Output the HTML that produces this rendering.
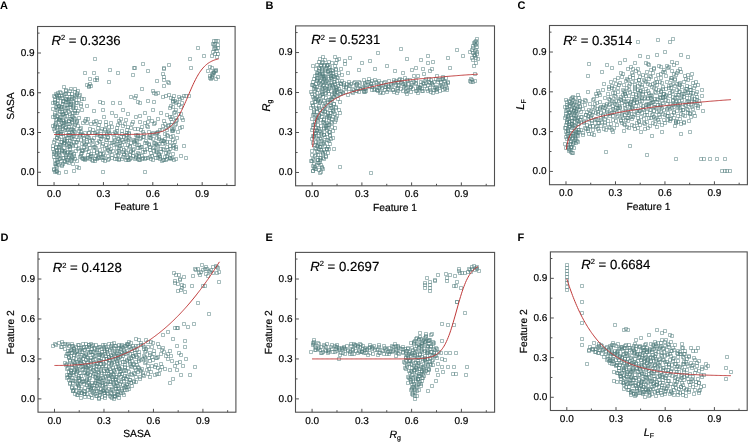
<!DOCTYPE html><html><head><meta charset="utf-8"><style>html,body{margin:0;padding:0;background:#fff;overflow:hidden;-webkit-font-smoothing:antialiased;text-rendering:geometricPrecision}svg{display:block;will-change:transform}</style></head><body><svg xmlns="http://www.w3.org/2000/svg" width="748" height="442" viewBox="0 0 748 442"><style>text{font-family:"Liberation Sans", sans-serif;fill:#000;stroke:#000;stroke-width:0.18px} .t{font-size:10px} .lab{font-size:10.3px} .r2{font-size:13.2px} .pl{font-size:11px;font-weight:bold;fill:#000;stroke:none}</style><rect width="748" height="442" fill="#fff"/><path d="M126.5 138.5h3v3h-3zM57.5 149.5h3v3h-3zM74.5 95.5h3v3h-3zM87.5 131.5h3v3h-3zM148.5 148.5h3v3h-3zM55.5 126.5h3v3h-3zM64.5 97.5h3v3h-3zM81.5 133.5h3v3h-3zM68.5 103.5h3v3h-3zM94.5 146.5h3v3h-3zM146.5 125.5h3v3h-3zM91.5 139.5h3v3h-3zM65.5 143.5h3v3h-3zM69.5 159.5h3v3h-3zM140.5 145.5h3v3h-3zM97.5 156.5h3v3h-3zM62.5 123.5h3v3h-3zM149.5 136.5h3v3h-3zM75.5 101.5h3v3h-3zM100.5 135.5h3v3h-3zM117.5 157.5h3v3h-3zM52.5 150.5h3v3h-3zM165.5 128.5h3v3h-3zM61.5 132.5h3v3h-3zM54.5 105.5h3v3h-3zM106.5 148.5h3v3h-3zM72.5 116.5h3v3h-3zM136.5 134.5h3v3h-3zM67.5 144.5h3v3h-3zM59.5 91.5h3v3h-3zM159.5 147.5h3v3h-3zM55.5 158.5h3v3h-3zM107.5 125.5h3v3h-3zM168.5 140.5h3v3h-3zM64.5 118.5h3v3h-3zM120.5 143.5h3v3h-3zM172.5 111.5h3v3h-3zM68.5 122.5h3v3h-3zM146.5 156.5h3v3h-3zM53.5 138.5h3v3h-3zM62.5 99.5h3v3h-3zM114.5 142.5h3v3h-3zM153.5 153.5h3v3h-3zM118.5 121.5h3v3h-3zM92.5 120.5h3v3h-3zM66.5 156.5h3v3h-3zM157.5 137.5h3v3h-3zM53.5 115.5h3v3h-3zM131.5 151.5h3v3h-3zM79.5 130.5h3v3h-3zM124.5 133.5h3v3h-3zM81.5 157.5h3v3h-3zM51.5 107.5h3v3h-3zM111.5 132.5h3v3h-3zM74.5 149.5h3v3h-3zM82.5 141.5h3v3h-3zM69.5 102.5h3v3h-3zM61.5 113.5h3v3h-3zM106.5 158.5h3v3h-3zM132.5 140.5h3v3h-3zM63.5 151.5h3v3h-3zM80.5 97.5h3v3h-3zM171.5 144.5h3v3h-3zM67.5 155.5h3v3h-3zM93.5 122.5h3v3h-3zM57.5 171.5h3v3h-3zM143.5 150.5h3v3h-3zM169.5 117.5h3v3h-3zM65.5 128.5h3v3h-3zM122.5 153.5h3v3h-3zM70.5 137.5h3v3h-3zM182.5 94.5h3v3h-3zM89.5 152.5h3v3h-3zM141.5 130.5h3v3h-3zM98.5 134.5h3v3h-3zM102.5 115.5h3v3h-3zM137.5 158.5h3v3h-3zM59.5 140.5h3v3h-3zM73.5 111.5h3v3h-3zM151.5 146.5h3v3h-3zM86.5 156.5h3v3h-3zM51.5 124.5h3v3h-3zM60.5 96.5h3v3h-3zM157.5 142.5h3v3h-3zM54.5 153.5h3v3h-3zM71.5 106.5h3v3h-3zM84.5 142.5h3v3h-3zM170.5 120.5h3v3h-3zM67.5 131.5h3v3h-3zM58.5 145.5h3v3h-3zM144.5 156.5h3v3h-3zM161.5 124.5h3v3h-3zM57.5 137.5h3v3h-3zM117.5 151.5h3v3h-3zM83.5 119.5h3v3h-3zM174.5 101.5h3v3h-3zM96.5 155.5h3v3h-3zM148.5 136.5h3v3h-3zM55.5 93.5h3v3h-3zM167.5 150.5h3v3h-3zM115.5 129.5h3v3h-3zM154.5 132.5h3v3h-3zM180.5 116.5h3v3h-3zM64.5 134.5h3v3h-3zM103.5 147.5h3v3h-3zM164.5 158.5h3v3h-3zM129.5 126.5h3v3h-3zM112.5 140.5h3v3h-3zM71.5 144.5h3v3h-3zM162.5 139.5h3v3h-3zM58.5 118.5h3v3h-3zM126.5 143.5h3v3h-3zM74.5 121.5h3v3h-3zM134.5 138.5h3v3h-3zM138.5 120.5h3v3h-3zM95.5 130.5h3v3h-3zM61.5 102.5h3v3h-3zM158.5 155.5h3v3h-3zM54.5 169.5h3v3h-3zM106.5 136.5h3v3h-3zM80.5 151.5h3v3h-3zM171.5 129.5h3v3h-3zM67.5 133.5h3v3h-3zM55.5 114.5h3v3h-3zM168.5 106.5h3v3h-3zM120.5 132.5h3v3h-3zM68.5 89.5h3v3h-3zM88.5 127.5h3v3h-3zM70.5 120.5h3v3h-3zM148.5 145.5h3v3h-3zM83.5 156.5h3v3h-3zM127.5 158.5h3v3h-3zM57.5 94.5h3v3h-3zM75.5 140.5h3v3h-3zM178.5 97.5h3v3h-3zM74.5 101.5h3v3h-3zM100.5 144.5h3v3h-3zM152.5 122.5h3v3h-3zM87.5 136.5h3v3h-3zM62.5 150.5h3v3h-3zM55.5 132.5h3v3h-3zM72.5 154.5h3v3h-3zM137.5 152.5h3v3h-3zM59.5 130.5h3v3h-3zM56.5 91.5h3v3h-3zM168.5 147.5h3v3h-3zM134.5 115.5h3v3h-3zM65.5 158.5h3v3h-3zM95.5 133.5h3v3h-3zM54.5 146.5h3v3h-3zM140.5 157.5h3v3h-3zM166.5 124.5h3v3h-3zM63.5 139.5h3v3h-3zM101.5 142.5h3v3h-3zM67.5 110.5h3v3h-3zM179.5 105.5h3v3h-3zM91.5 159.5h3v3h-3zM143.5 141.5h3v3h-3zM65.5 98.5h3v3h-3zM156.5 144.5h3v3h-3zM52.5 155.5h3v3h-3zM104.5 123.5h3v3h-3zM124.5 150.5h3v3h-3zM175.5 118.5h3v3h-3zM72.5 129.5h3v3h-3zM150.5 154.5h3v3h-3zM59.5 106.5h3v3h-3zM111.5 149.5h3v3h-3zM125.5 128.5h3v3h-3zM56.5 163.5h3v3h-3zM107.5 131.5h3v3h-3zM81.5 149.5h3v3h-3zM86.5 117.5h3v3h-3zM172.5 127.5h3v3h-3zM69.5 142.5h3v3h-3zM60.5 163.5h3v3h-3zM157.5 135.5h3v3h-3zM53.5 113.5h3v3h-3zM131.5 148.5h3v3h-3zM79.5 126.5h3v3h-3zM118.5 141.5h3v3h-3zM66.5 98.5h3v3h-3zM57.5 104.5h3v3h-3zM169.5 157.5h3v3h-3zM118.5 139.5h3v3h-3zM53.5 129.5h3v3h-3zM70.5 143.5h3v3h-3zM131.5 154.5h3v3h-3zM79.5 138.5h3v3h-3zM98.5 152.5h3v3h-3zM64.5 120.5h3v3h-3zM102.5 156.5h3v3h-3zM128.5 137.5h3v3h-3zM77.5 94.5h3v3h-3zM99.5 129.5h3v3h-3zM52.5 168.5h3v3h-3zM138.5 146.5h3v3h-3zM95.5 157.5h3v3h-3zM60.5 125.5h3v3h-3zM71.5 132.5h3v3h-3zM84.5 148.5h3v3h-3zM136.5 127.5h3v3h-3zM57.5 145.5h3v3h-3zM169.5 123.5h3v3h-3zM65.5 136.5h3v3h-3zM83.5 158.5h3v3h-3zM173.5 140.5h3v3h-3zM70.5 118.5h3v3h-3zM147.5 143.5h3v3h-3zM89.5 154.5h3v3h-3zM54.5 122.5h3v3h-3zM141.5 135.5h3v3h-3zM63.5 92.5h3v3h-3zM154.5 149.5h3v3h-3zM119.5 117.5h3v3h-3zM67.5 99.5h3v3h-3zM90.5 138.5h3v3h-3zM64.5 153.5h3v3h-3zM155.5 131.5h3v3h-3zM60.5 105.5h3v3h-3zM77.5 116.5h3v3h-3zM174.5 108.5h3v3h-3zM148.5 133.5h3v3h-3zM161.5 147.5h3v3h-3zM58.5 157.5h3v3h-3zM110.5 125.5h3v3h-3zM161.5 139.5h3v3h-3zM57.5 118.5h3v3h-3zM75.5 165.5h3v3h-3zM135.5 143.5h3v3h-3zM70.5 95.5h3v3h-3zM62.5 141.5h3v3h-3zM55.5 102.5h3v3h-3zM107.5 145.5h3v3h-3zM168.5 156.5h3v3h-3zM116.5 137.5h3v3h-3zM68.5 151.5h3v3h-3zM94.5 119.5h3v3h-3zM56.5 155.5h3v3h-3zM169.5 135.5h3v3h-3zM65.5 114.5h3v3h-3zM121.5 150.5h3v3h-3zM69.5 128.5h3v3h-3zM63.5 109.5h3v3h-3zM102.5 134.5h3v3h-3zM58.5 123.5h3v3h-3zM76.5 147.5h3v3h-3zM126.5 158.5h3v3h-3zM178.5 126.5h3v3h-3zM74.5 140.5h3v3h-3zM87.5 143.5h3v3h-3zM53.5 111.5h3v3h-3zM113.5 157.5h3v3h-3zM124.5 139.5h3v3h-3zM55.5 149.5h3v3h-3zM72.5 96.5h3v3h-3zM85.5 121.5h3v3h-3zM171.5 138.5h3v3h-3zM68.5 117.5h3v3h-3zM56.5 131.5h3v3h-3zM134.5 156.5h3v3h-3zM82.5 137.5h3v3h-3zM172.5 94.5h3v3h-3zM69.5 108.5h3v3h-3zM95.5 151.5h3v3h-3zM147.5 130.5h3v3h-3zM62.5 146.5h3v3h-3zM114.5 114.5h3v3h-3zM149.5 157.5h3v3h-3zM67.5 161.5h3v3h-3zM75.5 111.5h3v3h-3zM143.5 148.5h3v3h-3zM66.5 127.5h3v3h-3zM152.5 141.5h3v3h-3zM53.5 98.5h3v3h-3zM165.5 145.5h3v3h-3zM61.5 156.5h3v3h-3zM79.5 104.5h3v3h-3zM98.5 140.5h3v3h-3zM51.5 144.5h3v3h-3zM137.5 154.5h3v3h-3zM163.5 122.5h3v3h-3zM59.5 135.5h3v3h-3zM56.5 107.5h3v3h-3zM108.5 150.5h3v3h-3zM73.5 117.5h3v3h-3zM86.5 153.5h3v3h-3zM138.5 137.5h3v3h-3zM60.5 94.5h3v3h-3zM157.5 152.5h3v3h-3zM54.5 162.5h3v3h-3zM106.5 130.5h3v3h-3zM166.5 134.5h3v3h-3zM62.5 112.5h3v3h-3zM119.5 147.5h3v3h-3zM170.5 115.5h3v3h-3zM101.5 158.5h3v3h-3zM67.5 125.5h3v3h-3zM56.5 133.5h3v3h-3zM65.5 103.5h3v3h-3zM117.5 146.5h3v3h-3zM156.5 156.5h3v3h-3zM121.5 124.5h3v3h-3zM104.5 138.5h3v3h-3zM63.5 160.5h3v3h-3zM154.5 142.5h3v3h-3zM128.5 145.5h3v3h-3zM110.5 156.5h3v3h-3zM76.5 124.5h3v3h-3zM124.5 137.5h3v3h-3zM73.5 94.5h3v3h-3zM150.5 119.5h3v3h-3zM51.5 101.5h3v3h-3zM163.5 155.5h3v3h-3zM112.5 136.5h3v3h-3zM88.5 157.5h3v3h-3zM53.5 125.5h3v3h-3zM70.5 150.5h3v3h-3zM79.5 132.5h3v3h-3zM66.5 106.5h3v3h-3zM92.5 149.5h3v3h-3zM58.5 116.5h3v3h-3zM135.5 134.5h3v3h-3zM66.5 145.5h3v3h-3zM174.5 147.5h3v3h-3zM70.5 158.5h3v3h-3zM96.5 126.5h3v3h-3zM55.5 165.5h3v3h-3zM64.5 122.5h3v3h-3zM120.5 157.5h3v3h-3zM68.5 139.5h3v3h-3zM180.5 96.5h3v3h-3zM91.5 143.5h3v3h-3zM143.5 121.5h3v3h-3zM99.5 137.5h3v3h-3zM52.5 152.5h3v3h-3zM104.5 120.5h3v3h-3zM78.5 155.5h3v3h-3zM175.5 136.5h3v3h-3zM71.5 115.5h3v3h-3zM149.5 151.5h3v3h-3zM136.5 133.5h3v3h-3zM58.5 90.5h3v3h-3zM57.5 157.5h3v3h-3zM74.5 106.5h3v3h-3zM87.5 131.5h3v3h-3zM70.5 121.5h3v3h-3zM61.5 149.5h3v3h-3zM158.5 128.5h3v3h-3zM55.5 142.5h3v3h-3zM63.5 103.5h3v3h-3zM115.5 146.5h3v3h-3zM154.5 156.5h3v3h-3zM171.5 105.5h3v3h-3zM93.5 159.5h3v3h-3zM145.5 141.5h3v3h-3zM56.5 98.5h3v3h-3zM168.5 144.5h3v3h-3zM64.5 155.5h3v3h-3zM116.5 123.5h3v3h-3zM155.5 136.5h3v3h-3zM129.5 150.5h3v3h-3zM181.5 118.5h3v3h-3zM77.5 129.5h3v3h-3zM140.5 154.5h3v3h-3zM62.5 138.5h3v3h-3zM101.5 152.5h3v3h-3zM127.5 131.5h3v3h-3zM53.5 162.5h3v3h-3zM165.5 133.5h3v3h-3zM61.5 112.5h3v3h-3zM124.5 146.5h3v3h-3zM107.5 157.5h3v3h-3zM72.5 125.5h3v3h-3zM133.5 139.5h3v3h-3zM172.5 143.5h3v3h-3zM68.5 153.5h3v3h-3zM59.5 105.5h3v3h-3zM160.5 159.5h3v3h-3zM108.5 141.5h3v3h-3zM82.5 145.5h3v3h-3zM121.5 155.5h3v3h-3zM173.5 123.5h3v3h-3zM69.5 136.5h3v3h-3zM54.5 118.5h3v3h-3zM114.5 154.5h3v3h-3zM119.5 135.5h3v3h-3zM136.5 157.5h3v3h-3zM67.5 92.5h3v3h-3zM91.5 128.5h3v3h-3zM152.5 149.5h3v3h-3zM156.5 117.5h3v3h-3zM52.5 127.5h3v3h-3zM61.5 99.5h3v3h-3zM78.5 134.5h3v3h-3zM72.5 105.5h3v3h-3zM98.5 148.5h3v3h-3zM85.5 140.5h3v3h-3zM59.5 144.5h3v3h-3zM55.5 136.5h3v3h-3zM73.5 157.5h3v3h-3zM137.5 143.5h3v3h-3zM94.5 154.5h3v3h-3zM60.5 121.5h3v3h-3zM53.5 95.5h3v3h-3zM166.5 152.5h3v3h-3zM131.5 120.5h3v3h-3zM114.5 131.5h3v3h-3zM79.5 102.5h3v3h-3zM170.5 156.5h3v3h-3zM92.5 136.5h3v3h-3zM57.5 151.5h3v3h-3zM170.5 129.5h3v3h-3zM66.5 133.5h3v3h-3zM105.5 146.5h3v3h-3zM70.5 114.5h3v3h-3zM165.5 157.5h3v3h-3zM142.5 132.5h3v3h-3zM64.5 89.5h3v3h-3zM155.5 148.5h3v3h-3zM103.5 127.5h3v3h-3zM163.5 141.5h3v3h-3zM59.5 119.5h3v3h-3zM77.5 166.5h3v3h-3zM177.5 112.5h3v3h-3zM73.5 123.5h3v3h-3zM151.5 158.5h3v3h-3zM52.5 140.5h3v3h-3zM61.5 100.5h3v3h-3zM112.5 143.5h3v3h-3zM158.5 154.5h3v3h-3zM123.5 122.5h3v3h-3zM106.5 135.5h3v3h-3zM80.5 149.5h3v3h-3zM84.5 117.5h3v3h-3zM171.5 128.5h3v3h-3zM58.5 153.5h3v3h-3zM160.5 138.5h3v3h-3zM57.5 117.5h3v3h-3zM135.5 153.5h3v3h-3zM83.5 131.5h3v3h-3zM122.5 135.5h3v3h-3zM70.5 92.5h3v3h-3zM147.5 116.5h3v3h-3zM55.5 108.5h3v3h-3zM115.5 133.5h3v3h-3zM68.5 147.5h3v3h-3zM128.5 157.5h3v3h-3zM180.5 125.5h3v3h-3zM64.5 111.5h3v3h-3zM103.5 159.5h3v3h-3zM129.5 141.5h3v3h-3zM77.5 98.5h3v3h-3zM174.5 145.5h3v3h-3zM71.5 156.5h3v3h-3zM97.5 123.5h3v3h-3zM136.5 151.5h3v3h-3zM162.5 119.5h3v3h-3zM58.5 129.5h3v3h-3zM126.5 155.5h3v3h-3zM74.5 135.5h3v3h-3zM87.5 150.5h3v3h-3zM139.5 128.5h3v3h-3zM96.5 132.5h3v3h-3zM55.5 148.5h3v3h-3zM63.5 141.5h3v3h-3zM171.5 134.5h3v3h-3zM68.5 112.5h3v3h-3zM145.5 147.5h3v3h-3zM90.5 158.5h3v3h-3zM56.5 125.5h3v3h-3zM64.5 97.5h3v3h-3zM155.5 143.5h3v3h-3zM69.5 103.5h3v3h-3zM88.5 139.5h3v3h-3zM71.5 128.5h3v3h-3zM62.5 142.5h3v3h-3zM153.5 121.5h3v3h-3zM58.5 110.5h3v3h-3zM110.5 153.5h3v3h-3zM75.5 120.5h3v3h-3zM125.5 131.5h3v3h-3zM177.5 103.5h3v3h-3zM100.5 156.5h3v3h-3zM151.5 137.5h3v3h-3zM52.5 94.5h3v3h-3zM164.5 151.5h3v3h-3zM61.5 162.5h3v3h-3zM113.5 130.5h3v3h-3zM132.5 147.5h3v3h-3zM115.5 157.5h3v3h-3zM67.5 97.5h3v3h-3zM59.5 132.5h3v3h-3zM55.5 106.5h3v3h-3zM107.5 149.5h3v3h-3zM133.5 127.5h3v3h-3zM116.5 142.5h3v3h-3zM68.5 145.5h3v3h-3zM129.5 156.5h3v3h-3zM53.5 158.5h3v3h-3zM165.5 140.5h3v3h-3zM62.5 119.5h3v3h-3zM118.5 144.5h3v3h-3zM101.5 155.5h3v3h-3zM66.5 122.5h3v3h-3zM127.5 136.5h3v3h-3zM75.5 93.5h3v3h-3zM66.5 100.5h3v3h-3zM157.5 153.5h3v3h-3zM53.5 170.5h3v3h-3zM105.5 138.5h3v3h-3zM61.5 127.5h3v3h-3zM79.5 152.5h3v3h-3zM176.5 130.5h3v3h-3zM72.5 134.5h3v3h-3zM85.5 147.5h3v3h-3zM51.5 115.5h3v3h-3zM172.5 158.5h3v3h-3zM125.5 133.5h3v3h-3zM73.5 90.5h3v3h-3zM82.5 157.5h3v3h-3zM69.5 117.5h3v3h-3zM60.5 164.5h3v3h-3zM147.5 142.5h3v3h-3zM54.5 121.5h3v3h-3zM80.5 142.5h3v3h-3zM171.5 99.5h3v3h-3zM67.5 102.5h3v3h-3zM93.5 145.5h3v3h-3zM145.5 124.5h3v3h-3zM65.5 151.5h3v3h-3zM117.5 119.5h3v3h-3zM156.5 130.5h3v3h-3zM70.5 155.5h3v3h-3zM158.5 157.5h3v3h-3zM141.5 150.5h3v3h-3zM63.5 128.5h3v3h-3zM150.5 132.5h3v3h-3zM162.5 148.5h3v3h-3zM59.5 159.5h3v3h-3zM76.5 109.5h3v3h-3zM99.5 134.5h3v3h-3zM51.5 147.5h3v3h-3zM138.5 158.5h3v3h-3zM164.5 126.5h3v3h-3zM60.5 140.5h3v3h-3zM53.5 101.5h3v3h-3zM71.5 111.5h3v3h-3zM84.5 157.5h3v3h-3zM135.5 139.5h3v3h-3zM66.5 150.5h3v3h-3zM58.5 96.5h3v3h-3zM161.5 142.5h3v3h-3zM57.5 153.5h3v3h-3zM109.5 121.5h3v3h-3zM122.5 152.5h3v3h-3zM174.5 119.5h3v3h-3zM70.5 130.5h3v3h-3zM148.5 155.5h3v3h-3zM55.5 136.5h3v3h-3zM64.5 107.5h3v3h-3zM115.5 150.5h3v3h-3zM120.5 129.5h3v3h-3zM102.5 132.5h3v3h-3zM77.5 146.5h3v3h-3zM125.5 156.5h3v3h-3zM65.5 160.5h3v3h-3zM155.5 131.5h3v3h-3zM129.5 149.5h3v3h-3zM78.5 127.5h3v3h-3zM71.5 99.5h3v3h-3zM80.5 156.5h3v3h-3zM162.5 158.5h3v3h-3zM110.5 141.5h3v3h-3zM57.5 130.5h3v3h-3zM74.5 144.5h3v3h-3zM134.5 155.5h3v3h-3zM82.5 136.5h3v3h-3zM95.5 150.5h3v3h-3zM61.5 118.5h3v3h-3zM106.5 154.5h3v3h-3zM132.5 138.5h3v3h-3zM63.5 149.5h3v3h-3zM171.5 152.5h3v3h-3zM93.5 131.5h3v3h-3zM55.5 169.5h3v3h-3zM168.5 115.5h3v3h-3zM64.5 126.5h3v3h-3zM68.5 133.5h3v3h-3zM88.5 146.5h3v3h-3zM174.5 157.5h3v3h-3zM140.5 125.5h3v3h-3zM97.5 139.5h3v3h-3zM75.5 159.5h3v3h-3zM75.5 119.5h3v3h-3zM152.5 145.5h3v3h-3zM88.5 155.5h3v3h-3zM53.5 123.5h3v3h-3zM139.5 136.5h3v3h-3zM62.5 93.5h3v3h-3zM159.5 150.5h3v3h-3zM124.5 118.5h3v3h-3zM55.5 161.5h3v3h-3zM107.5 129.5h3v3h-3zM72.5 100.5h3v3h-3zM85.5 135.5h3v3h-3zM60.5 149.5h3v3h-3zM160.5 128.5h3v3h-3zM56.5 131.5h3v3h-3zM65.5 106.5h3v3h-3zM117.5 149.5h3v3h-3zM173.5 110.5h3v3h-3zM147.5 135.5h3v3h-3zM54.5 92.5h3v3h-3zM166.5 148.5h3v3h-3zM63.5 159.5h3v3h-3zM115.5 126.5h3v3h-3zM153.5 141.5h3v3h-3zM128.5 144.5h3v3h-3zM179.5 112.5h3v3h-3zM143.5 157.5h3v3h-3zM65.5 139.5h3v3h-3zM53.5 100.5h3v3h-3zM104.5 143.5h3v3h-3zM165.5 154.5h3v3h-3zM130.5 122.5h3v3h-3zM113.5 138.5h3v3h-3zM72.5 152.5h3v3h-3zM98.5 120.5h3v3h-3zM163.5 137.5h3v3h-3zM59.5 115.5h3v3h-3zM125.5 151.5h3v3h-3zM73.5 130.5h3v3h-3zM134.5 133.5h3v3h-3zM172.5 146.5h3v3h-3zM138.5 114.5h3v3h-3zM69.5 157.5h3v3h-3zM60.5 107.5h3v3h-3zM54.5 164.5h3v3h-3zM105.5 132.5h3v3h-3zM62.5 121.5h3v3h-3zM80.5 148.5h3v3h-3zM170.5 127.5h3v3h-3zM67.5 141.5h3v3h-3zM92.5 145.5h3v3h-3zM57.5 112.5h3v3h-3zM169.5 104.5h3v3h-3zM117.5 158.5h3v3h-3zM122.5 140.5h3v3h-3zM53.5 151.5h3v3h-3zM70.5 97.5h3v3h-3zM79.5 154.5h3v3h-3zM89.5 122.5h3v3h-3zM128.5 153.5h3v3h-3zM76.5 138.5h3v3h-3zM56.5 160.5h3v3h-3zM177.5 95.5h3v3h-3zM73.5 109.5h3v3h-3zM99.5 152.5h3v3h-3zM151.5 131.5h3v3h-3zM86.5 135.5h3v3h-3zM60.5 148.5h3v3h-3zM71.5 162.5h3v3h-3zM136.5 146.5h3v3h-3zM93.5 157.5h3v3h-3zM58.5 125.5h3v3h-3zM144.5 139.5h3v3h-3zM56.5 96.5h3v3h-3zM95.5 141.5h3v3h-3zM54.5 145.5h3v3h-3zM141.5 156.5h3v3h-3zM167.5 123.5h3v3h-3zM63.5 137.5h3v3h-3zM102.5 151.5h3v3h-3zM67.5 119.5h3v3h-3zM180.5 101.5h3v3h-3zM90.5 154.5h3v3h-3zM142.5 135.5h3v3h-3zM133.5 157.5h3v3h-3zM64.5 92.5h3v3h-3zM155.5 150.5h3v3h-3zM103.5 128.5h3v3h-3zM163.5 132.5h3v3h-3zM60.5 110.5h3v3h-3zM122.5 148.5h3v3h-3zM174.5 116.5h3v3h-3zM70.5 127.5h3v3h-3zM57.5 104.5h3v3h-3zM109.5 147.5h3v3h-3zM161.5 158.5h3v3h-3zM126.5 125.5h3v3h-3zM83.5 143.5h3v3h-3zM174.5 122.5h3v3h-3zM70.5 135.5h3v3h-3zM62.5 156.5h3v3h-3zM159.5 139.5h3v3h-3zM55.5 117.5h3v3h-3zM133.5 142.5h3v3h-3zM116.5 153.5h3v3h-3zM81.5 121.5h3v3h-3zM120.5 138.5h3v3h-3zM68.5 95.5h3v3h-3zM146.5 120.5h3v3h-3zM91.5 131.5h3v3h-3zM56.5 102.5h3v3h-3zM168.5 156.5h3v3h-3zM117.5 137.5h3v3h-3zM69.5 151.5h3v3h-3zM78.5 133.5h3v3h-3zM71.5 104.5h3v3h-3zM63.5 114.5h3v3h-3zM127.5 132.5h3v3h-3zM58.5 143.5h3v3h-3zM76.5 89.5h3v3h-3zM100.5 127.5h3v3h-3zM52.5 167.5h3v3h-3zM139.5 145.5h3v3h-3zM165.5 113.5h3v3h-3zM96.5 156.5h3v3h-3zM61.5 124.5h3v3h-3zM124.5 158.5h3v3h-3zM55.5 94.5h3v3h-3zM72.5 140.5h3v3h-3zM93.5 57.5h3v3h-3zM83.5 71.5h3v3h-3zM92.5 71.5h3v3h-3zM108.5 68.5h3v3h-3zM116.5 71.5h3v3h-3zM132.5 66.5h3v3h-3zM131.5 73.5h3v3h-3zM88.5 77.5h3v3h-3zM93.5 78.5h3v3h-3zM95.5 78.5h3v3h-3zM95.5 76.5h3v3h-3zM107.5 80.5h3v3h-3zM85.5 83.5h3v3h-3zM87.5 85.5h3v3h-3zM88.5 82.5h3v3h-3zM87.5 84.5h3v3h-3zM89.5 84.5h3v3h-3zM62.5 85.5h3v3h-3zM64.5 88.5h3v3h-3zM69.5 87.5h3v3h-3zM73.5 87.5h3v3h-3zM129.5 95.5h3v3h-3zM133.5 96.5h3v3h-3zM134.5 94.5h3v3h-3zM98.5 100.5h3v3h-3zM101.5 101.5h3v3h-3zM111.5 101.5h3v3h-3zM118.5 101.5h3v3h-3zM141.5 62.5h3v3h-3zM146.5 69.5h3v3h-3zM162.5 66.5h3v3h-3zM162.5 67.5h3v3h-3zM167.5 63.5h3v3h-3zM133.5 66.5h3v3h-3zM140.5 87.5h3v3h-3zM151.5 89.5h3v3h-3zM152.5 91.5h3v3h-3zM154.5 92.5h3v3h-3zM156.5 91.5h3v3h-3zM155.5 79.5h3v3h-3zM161.5 72.5h3v3h-3zM162.5 78.5h3v3h-3zM162.5 75.5h3v3h-3zM162.5 84.5h3v3h-3zM166.5 80.5h3v3h-3zM167.5 81.5h3v3h-3zM188.5 57.5h3v3h-3zM189.5 66.5h3v3h-3zM196.5 46.5h3v3h-3zM202.5 54.5h3v3h-3zM136.5 100.5h3v3h-3zM138.5 101.5h3v3h-3zM146.5 99.5h3v3h-3zM152.5 100.5h3v3h-3zM161.5 95.5h3v3h-3zM164.5 94.5h3v3h-3zM167.5 93.5h3v3h-3zM169.5 96.5h3v3h-3zM171.5 97.5h3v3h-3zM173.5 99.5h3v3h-3zM171.5 100.5h3v3h-3zM175.5 100.5h3v3h-3zM184.5 94.5h3v3h-3zM187.5 94.5h3v3h-3zM55.5 170.5h3v3h-3zM64.5 170.5h3v3h-3zM72.5 169.5h3v3h-3zM101.5 170.5h3v3h-3zM143.5 170.5h3v3h-3zM179.5 154.5h3v3h-3zM184.5 156.5h3v3h-3zM182.5 144.5h3v3h-3zM75.5 91.5h3v3h-3zM78.5 93.5h3v3h-3zM82.5 97.5h3v3h-3zM85.5 104.5h3v3h-3zM80.5 108.5h3v3h-3zM92.5 109.5h3v3h-3zM101.5 108.5h3v3h-3zM110.5 111.5h3v3h-3zM121.5 108.5h3v3h-3zM126.5 112.5h3v3h-3zM143.5 111.5h3v3h-3zM151.5 108.5h3v3h-3zM159.5 111.5h3v3h-3zM213.5 42.5h3v3h-3zM215.5 49.5h3v3h-3zM215.5 55.5h3v3h-3zM214.5 39.5h3v3h-3zM216.5 46.5h3v3h-3zM212.5 43.5h3v3h-3zM214.5 47.5h3v3h-3zM216.5 52.5h3v3h-3zM211.5 42.5h3v3h-3zM216.5 39.5h3v3h-3zM213.5 46.5h3v3h-3zM211.5 50.5h3v3h-3zM210.5 54.5h3v3h-3zM212.5 39.5h3v3h-3zM213.5 52.5h3v3h-3zM216.5 43.5h3v3h-3zM212.5 47.5h3v3h-3zM214.5 77.5h3v3h-3zM211.5 73.5h3v3h-3zM206.5 69.5h3v3h-3zM210.5 66.5h3v3h-3zM208.5 76.5h3v3h-3zM213.5 69.5h3v3h-3zM211.5 71.5h3v3h-3zM209.5 77.5h3v3h-3zM214.5 69.5h3v3h-3zM210.5 72.5h3v3h-3zM214.5 68.5h3v3h-3zM210.5 75.5h3v3h-3zM208.5 74.5h3v3h-3zM212.5 70.5h3v3h-3zM210.5 76.5h3v3h-3zM208.5 65.5h3v3h-3zM216.5 75.5h3v3h-3zM212.5 71.5h3v3h-3z" fill="none" stroke="#4f7b7b" stroke-width="0.5"/><path d="M339.5 92.5h3v3h-3zM311.5 157.5h3v3h-3zM334.5 118.5h3v3h-3zM418.5 86.5h3v3h-3zM323.5 81.5h3v3h-3zM319.5 130.5h3v3h-3zM328.5 98.5h3v3h-3zM315.5 116.5h3v3h-3zM406.5 88.5h3v3h-3zM326.5 63.5h3v3h-3zM331.5 109.5h3v3h-3zM320.5 165.5h3v3h-3zM393.5 81.5h3v3h-3zM365.5 80.5h3v3h-3zM324.5 75.5h3v3h-3zM334.5 85.5h3v3h-3zM359.5 87.5h3v3h-3zM322.5 142.5h3v3h-3zM422.5 82.5h3v3h-3zM313.5 96.5h3v3h-3zM392.5 90.5h3v3h-3zM346.5 71.5h3v3h-3zM383.5 85.5h3v3h-3zM323.5 122.5h3v3h-3zM442.5 79.5h3v3h-3zM316.5 158.5h3v3h-3zM335.5 88.5h3v3h-3zM312.5 134.5h3v3h-3zM311.5 83.5h3v3h-3zM329.5 104.5h3v3h-3zM398.5 77.5h3v3h-3zM379.5 90.5h3v3h-3zM318.5 67.5h3v3h-3zM322.5 117.5h3v3h-3zM414.5 89.5h3v3h-3zM355.5 84.5h3v3h-3zM310.5 92.5h3v3h-3zM324.5 88.5h3v3h-3zM314.5 167.5h3v3h-3zM333.5 55.5h3v3h-3zM435.5 86.5h3v3h-3zM326.5 100.5h3v3h-3zM321.5 151.5h3v3h-3zM312.5 108.5h3v3h-3zM329.5 71.5h3v3h-3zM434.5 85.5h3v3h-3zM315.5 78.5h3v3h-3zM363.5 82.5h3v3h-3zM326.5 138.5h3v3h-3zM340.5 90.5h3v3h-3zM331.5 85.5h3v3h-3zM318.5 108.5h3v3h-3zM410.5 81.5h3v3h-3zM323.5 135.5h3v3h-3zM334.5 106.5h3v3h-3zM375.5 88.5h3v3h-3zM330.5 97.5h3v3h-3zM352.5 81.5h3v3h-3zM316.5 137.5h3v3h-3zM427.5 80.5h3v3h-3zM318.5 94.5h3v3h-3zM396.5 84.5h3v3h-3zM313.5 120.5h3v3h-3zM319.5 74.5h3v3h-3zM310.5 153.5h3v3h-3zM328.5 83.5h3v3h-3zM351.5 91.5h3v3h-3zM317.5 142.5h3v3h-3zM321.5 80.5h3v3h-3zM385.5 90.5h3v3h-3zM311.5 64.5h3v3h-3zM438.5 78.5h3v3h-3zM315.5 110.5h3v3h-3zM406.5 82.5h3v3h-3zM327.5 72.5h3v3h-3zM322.5 99.5h3v3h-3zM319.5 163.5h3v3h-3zM364.5 89.5h3v3h-3zM314.5 147.5h3v3h-3zM405.5 92.5h3v3h-3zM316.5 115.5h3v3h-3zM325.5 124.5h3v3h-3zM320.5 86.5h3v3h-3zM311.5 164.5h3v3h-3zM325.5 121.5h3v3h-3zM336.5 84.5h3v3h-3zM309.5 106.5h3v3h-3zM400.5 78.5h3v3h-3zM313.5 143.5h3v3h-3zM331.5 69.5h3v3h-3zM328.5 114.5h3v3h-3zM396.5 86.5h3v3h-3zM369.5 81.5h3v3h-3zM317.5 66.5h3v3h-3zM335.5 94.5h3v3h-3zM326.5 89.5h3v3h-3zM420.5 87.5h3v3h-3zM310.5 101.5h3v3h-3zM317.5 127.5h3v3h-3zM436.5 80.5h3v3h-3zM322.5 148.5h3v3h-3zM340.5 79.5h3v3h-3zM323.5 92.5h3v3h-3zM314.5 87.5h3v3h-3zM332.5 110.5h3v3h-3zM389.5 83.5h3v3h-3zM435.5 90.5h3v3h-3zM325.5 132.5h3v3h-3zM321.5 72.5h3v3h-3zM321.5 107.5h3v3h-3zM412.5 80.5h3v3h-3zM362.5 89.5h3v3h-3zM316.5 98.5h3v3h-3zM318.5 79.5h3v3h-3zM377.5 83.5h3v3h-3zM441.5 77.5h3v3h-3zM332.5 91.5h3v3h-3zM319.5 156.5h3v3h-3zM401.5 82.5h3v3h-3zM333.5 75.5h3v3h-3zM426.5 89.5h3v3h-3zM313.5 129.5h3v3h-3zM320.5 68.5h3v3h-3zM329.5 76.5h3v3h-3zM324.5 113.5h3v3h-3zM416.5 85.5h3v3h-3zM318.5 136.5h3v3h-3zM313.5 167.5h3v3h-3zM386.5 84.5h3v3h-3zM373.5 78.5h3v3h-3zM328.5 101.5h3v3h-3zM342.5 83.5h3v3h-3zM344.5 86.5h3v3h-3zM430.5 81.5h3v3h-3zM321.5 95.5h3v3h-3zM330.5 117.5h3v3h-3zM311.5 126.5h3v3h-3zM316.5 158.5h3v3h-3zM334.5 88.5h3v3h-3zM327.5 119.5h3v3h-3zM322.5 133.5h3v3h-3zM313.5 100.5h3v3h-3zM319.5 82.5h3v3h-3zM337.5 108.5h3v3h-3zM383.5 80.5h3v3h-3zM315.5 71.5h3v3h-3zM317.5 147.5h3v3h-3zM399.5 87.5h3v3h-3zM349.5 82.5h3v3h-3zM320.5 90.5h3v3h-3zM370.5 79.5h3v3h-3zM445.5 88.5h3v3h-3zM331.5 129.5h3v3h-3zM419.5 83.5h3v3h-3zM323.5 76.5h3v3h-3zM316.5 123.5h3v3h-3zM339.5 89.5h3v3h-3zM312.5 112.5h3v3h-3zM403.5 84.5h3v3h-3zM311.5 134.5h3v3h-3zM329.5 74.5h3v3h-3zM434.5 88.5h3v3h-3zM334.5 105.5h3v3h-3zM318.5 160.5h3v3h-3zM364.5 86.5h3v3h-3zM323.5 68.5h3v3h-3zM332.5 80.5h3v3h-3zM360.5 85.5h3v3h-3zM424.5 77.5h3v3h-3zM315.5 91.5h3v3h-3zM322.5 118.5h3v3h-3zM440.5 85.5h3v3h-3zM320.5 150.5h3v3h-3zM338.5 81.5h3v3h-3zM352.5 88.5h3v3h-3zM315.5 144.5h3v3h-3zM327.5 115.5h3v3h-3zM395.5 87.5h3v3h-3zM319.5 63.5h3v3h-3zM323.5 109.5h3v3h-3zM414.5 81.5h3v3h-3zM353.5 80.5h3v3h-3zM335.5 75.5h3v3h-3zM321.5 84.5h3v3h-3zM312.5 162.5h3v3h-3zM375.5 88.5h3v3h-3zM439.5 83.5h3v3h-3zM329.5 97.5h3v3h-3zM325.5 147.5h3v3h-3zM416.5 91.5h3v3h-3zM327.5 66.5h3v3h-3zM432.5 80.5h3v3h-3zM313.5 89.5h3v3h-3zM328.5 133.5h3v3h-3zM333.5 82.5h3v3h-3zM317.5 104.5h3v3h-3zM344.5 90.5h3v3h-3zM321.5 141.5h3v3h-3zM339.5 67.5h3v3h-3zM421.5 81.5h3v3h-3zM383.5 88.5h3v3h-3zM324.5 126.5h3v3h-3zM379.5 84.5h3v3h-3zM333.5 92.5h3v3h-3zM313.5 132.5h3v3h-3zM428.5 86.5h3v3h-3zM318.5 100.5h3v3h-3zM396.5 80.5h3v3h-3zM314.5 131.5h3v3h-3zM316.5 71.5h3v3h-3zM444.5 84.5h3v3h-3zM325.5 79.5h3v3h-3zM330.5 125.5h3v3h-3zM320.5 139.5h3v3h-3zM325.5 87.5h3v3h-3zM389.5 82.5h3v3h-3zM314.5 106.5h3v3h-3zM405.5 78.5h3v3h-3zM347.5 87.5h3v3h-3zM328.5 68.5h3v3h-3zM324.5 96.5h3v3h-3zM315.5 76.5h3v3h-3zM335.5 58.5h3v3h-3zM363.5 81.5h3v3h-3zM312.5 158.5h3v3h-3zM320.5 112.5h3v3h-3zM329.5 120.5h3v3h-3zM425.5 87.5h3v3h-3zM318.5 83.5h3v3h-3zM363.5 90.5h3v3h-3zM322.5 127.5h3v3h-3zM377.5 86.5h3v3h-3zM331.5 95.5h3v3h-3zM310.5 117.5h3v3h-3zM401.5 89.5h3v3h-3zM314.5 140.5h3v3h-3zM326.5 111.5h3v3h-3zM321.5 167.5h3v3h-3zM394.5 83.5h3v3h-3zM367.5 77.5h3v3h-3zM320.5 72.5h3v3h-3zM338.5 100.5h3v3h-3zM329.5 81.5h3v3h-3zM354.5 89.5h3v3h-3zM318.5 145.5h3v3h-3zM418.5 85.5h3v3h-3zM327.5 147.5h3v3h-3zM322.5 77.5h3v3h-3zM395.5 91.5h3v3h-3zM386.5 87.5h3v3h-3zM319.5 124.5h3v3h-3zM324.5 155.5h3v3h-3zM342.5 85.5h3v3h-3zM312.5 84.5h3v3h-3zM330.5 106.5h3v3h-3zM392.5 78.5h3v3h-3zM324.5 69.5h3v3h-3zM317.5 114.5h3v3h-3zM408.5 86.5h3v3h-3zM326.5 123.5h3v3h-3zM358.5 81.5h3v3h-3zM313.5 93.5h3v3h-3zM441.5 88.5h3v3h-3zM332.5 102.5h3v3h-3zM316.5 153.5h3v3h-3zM330.5 68.5h3v3h-3zM430.5 82.5h3v3h-3zM311.5 80.5h3v3h-3zM316.5 126.5h3v3h-3zM370.5 85.5h3v3h-3zM327.5 87.5h3v3h-3zM323.5 110.5h3v3h-3zM414.5 82.5h3v3h-3zM429.5 90.5h3v3h-3zM319.5 132.5h3v3h-3zM337.5 71.5h3v3h-3zM315.5 163.5h3v3h-3zM387.5 79.5h3v3h-3zM372.5 88.5h3v3h-3zM326.5 98.5h3v3h-3zM347.5 83.5h3v3h-3zM434.5 77.5h3v3h-3zM324.5 91.5h3v3h-3zM322.5 75.5h3v3h-3zM313.5 154.5h3v3h-3zM331.5 84.5h3v3h-3zM346.5 93.5h3v3h-3zM328.5 130.5h3v3h-3zM323.5 144.5h3v3h-3zM314.5 97.5h3v3h-3zM316.5 77.5h3v3h-3zM335.5 114.5h3v3h-3zM380.5 86.5h3v3h-3zM439.5 80.5h3v3h-3zM311.5 113.5h3v3h-3zM402.5 85.5h3v3h-3zM334.5 73.5h3v3h-3zM318.5 101.5h3v3h-3zM368.5 85.5h3v3h-3zM446.5 81.5h3v3h-3zM310.5 149.5h3v3h-3zM415.5 89.5h3v3h-3zM333.5 126.5h3v3h-3zM321.5 87.5h3v3h-3zM312.5 166.5h3v3h-3zM319.5 118.5h3v3h-3zM342.5 81.5h3v3h-3zM315.5 107.5h3v3h-3zM406.5 79.5h3v3h-3zM326.5 70.5h3v3h-3zM331.5 115.5h3v3h-3zM318.5 171.5h3v3h-3zM391.5 88.5h3v3h-3zM364.5 83.5h3v3h-3zM323.5 63.5h3v3h-3zM341.5 91.5h3v3h-3zM332.5 86.5h3v3h-3zM357.5 80.5h3v3h-3zM421.5 89.5h3v3h-3zM311.5 103.5h3v3h-3zM325.5 128.5h3v3h-3zM444.5 82.5h3v3h-3zM318.5 145.5h3v3h-3zM336.5 76.5h3v3h-3zM409.5 90.5h3v3h-3zM314.5 136.5h3v3h-3zM319.5 93.5h3v3h-3zM328.5 111.5h3v3h-3zM397.5 83.5h3v3h-3zM317.5 73.5h3v3h-3zM322.5 104.5h3v3h-3zM356.5 86.5h3v3h-3zM311.5 95.5h3v3h-3zM324.5 80.5h3v3h-3zM334.5 61.5h3v3h-3zM372.5 84.5h3v3h-3zM436.5 78.5h3v3h-3zM327.5 92.5h3v3h-3zM322.5 157.5h3v3h-3zM404.5 83.5h3v3h-3zM328.5 72.5h3v3h-3zM433.5 86.5h3v3h-3zM314.5 82.5h3v3h-3zM326.5 145.5h3v3h-3zM330.5 77.5h3v3h-3zM320.5 115.5h3v3h-3zM411.5 87.5h3v3h-3zM325.5 138.5h3v3h-3zM343.5 62.5h3v3h-3zM382.5 81.5h3v3h-3zM322.5 121.5h3v3h-3zM377.5 79.5h3v3h-3zM313.5 74.5h3v3h-3zM332.5 102.5h3v3h-3zM351.5 87.5h3v3h-3zM426.5 83.5h3v3h-3zM317.5 97.5h3v3h-3zM381.5 91.5h3v3h-3zM326.5 114.5h3v3h-3zM312.5 123.5h3v3h-3zM320.5 66.5h3v3h-3zM310.5 159.5h3v3h-3zM329.5 89.5h3v3h-3zM333.5 120.5h3v3h-3zM317.5 134.5h3v3h-3zM322.5 83.5h3v3h-3zM323.5 150.5h3v3h-3zM314.5 117.5h3v3h-3zM405.5 89.5h3v3h-3zM344.5 85.5h3v3h-3zM325.5 64.5h3v3h-3zM321.5 92.5h3v3h-3zM312.5 87.5h3v3h-3zM320.5 166.5h3v3h-3zM316.5 150.5h3v3h-3zM327.5 130.5h3v3h-3zM423.5 84.5h3v3h-3zM319.5 78.5h3v3h-3zM324.5 124.5h3v3h-3zM333.5 90.5h3v3h-3zM335.5 86.5h3v3h-3zM399.5 81.5h3v3h-3zM312.5 135.5h3v3h-3zM331.5 75.5h3v3h-3zM329.5 106.5h3v3h-3zM397.5 78.5h3v3h-3zM315.5 129.5h3v3h-3zM370.5 88.5h3v3h-3zM317.5 69.5h3v3h-3zM336.5 97.5h3v3h-3zM327.5 77.5h3v3h-3zM355.5 82.5h3v3h-3zM319.5 137.5h3v3h-3zM419.5 80.5h3v3h-3zM387.5 85.5h3v3h-3zM316.5 119.5h3v3h-3zM435.5 87.5h3v3h-3zM321.5 152.5h3v3h-3zM339.5 82.5h3v3h-3zM357.5 90.5h3v3h-3zM311.5 141.5h3v3h-3zM315.5 79.5h3v3h-3zM334.5 116.5h3v3h-3zM391.5 88.5h3v3h-3zM327.5 139.5h3v3h-3zM322.5 64.5h3v3h-3zM319.5 111.5h3v3h-3zM410.5 83.5h3v3h-3zM314.5 100.5h3v3h-3zM317.5 81.5h3v3h-3zM376.5 89.5h3v3h-3zM440.5 84.5h3v3h-3zM330.5 98.5h3v3h-3zM319.5 148.5h3v3h-3zM427.5 77.5h3v3h-3zM313.5 122.5h3v3h-3zM367.5 80.5h3v3h-3zM331.5 136.5h3v3h-3zM327.5 85.5h3v3h-3zM323.5 105.5h3v3h-3zM414.5 78.5h3v3h-3zM316.5 143.5h3v3h-3zM334.5 68.5h3v3h-3zM311.5 169.5h3v3h-3zM384.5 85.5h3v3h-3zM375.5 81.5h3v3h-3zM330.5 93.5h3v3h-3zM432.5 88.5h3v3h-3zM323.5 101.5h3v3h-3zM310.5 128.5h3v3h-3zM324.5 67.5h3v3h-3zM315.5 149.5h3v3h-3zM333.5 80.5h3v3h-3zM326.5 126.5h3v3h-3zM322.5 140.5h3v3h-3zM320.5 88.5h3v3h-3zM338.5 111.5h3v3h-3zM384.5 83.5h3v3h-3zM315.5 73.5h3v3h-3zM443.5 87.5h3v3h-3zM400.5 80.5h3v3h-3zM350.5 90.5h3v3h-3zM331.5 71.5h3v3h-3zM319.5 99.5h3v3h-3zM369.5 82.5h3v3h-3zM444.5 76.5h3v3h-3zM335.5 90.5h3v3h-3zM321.5 109.5h3v3h-3zM330.5 121.5h3v3h-3zM420.5 89.5h3v3h-3zM325.5 84.5h3v3h-3zM316.5 161.5h3v3h-3zM318.5 129.5h3v3h-3zM373.5 87.5h3v3h-3zM313.5 113.5h3v3h-3zM404.5 86.5h3v3h-3zM310.5 137.5h3v3h-3zM328.5 65.5h3v3h-3zM333.5 112.5h3v3h-3zM317.5 168.5h3v3h-3zM390.5 84.5h3v3h-3zM362.5 78.5h3v3h-3zM321.5 74.5h3v3h-3zM330.5 83.5h3v3h-3zM361.5 86.5h3v3h-3zM424.5 81.5h3v3h-3zM315.5 95.5h3v3h-3zM322.5 126.5h3v3h-3zM440.5 77.5h3v3h-3zM318.5 156.5h3v3h-3zM337.5 87.5h3v3h-3zM314.5 131.5h3v3h-3zM316.5 99.5h3v3h-3zM325.5 107.5h3v3h-3zM394.5 79.5h3v3h-3zM320.5 70.5h3v3h-3zM325.5 115.5h3v3h-3zM416.5 87.5h3v3h-3zM354.5 83.5h3v3h-3zM309.5 90.5h3v3h-3zM323.5 86.5h3v3h-3zM313.5 165.5h3v3h-3zM374.5 80.5h3v3h-3zM438.5 89.5h3v3h-3zM328.5 103.5h3v3h-3zM324.5 154.5h3v3h-3zM326.5 69.5h3v3h-3zM431.5 83.5h3v3h-3zM312.5 77.5h3v3h-3zM311.5 123.5h3v3h-3zM329.5 137.5h3v3h-3zM333.5 89.5h3v3h-3zM317.5 113.5h3v3h-3zM409.5 85.5h3v3h-3zM431.5 91.5h3v3h-3zM322.5 133.5h3v3h-3zM340.5 73.5h3v3h-3zM309.5 159.5h3v3h-3zM378.5 85.5h3v3h-3zM314.5 67.5h3v3h-3zM332.5 95.5h3v3h-3zM335.5 79.5h3v3h-3zM321.5 60.5h3v3h-3zM348.5 84.5h3v3h-3zM429.5 78.5h3v3h-3zM320.5 92.5h3v3h-3zM329.5 111.5h3v3h-3zM315.5 118.5h3v3h-3zM318.5 72.5h3v3h-3zM445.5 86.5h3v3h-3zM327.5 81.5h3v3h-3zM441.5 75.5h3v3h-3zM355.5 89.5h3v3h-3zM319.5 145.5h3v3h-3zM323.5 79.5h3v3h-3zM387.5 88.5h3v3h-3zM321.5 156.5h3v3h-3zM312.5 110.5h3v3h-3zM403.5 82.5h3v3h-3zM347.5 80.5h3v3h-3zM329.5 76.5h3v3h-3zM324.5 103.5h3v3h-3zM315.5 85.5h3v3h-3zM317.5 161.5h3v3h-3zM363.5 87.5h3v3h-3zM313.5 146.5h3v3h-3zM404.5 90.5h3v3h-3zM409.5 85.5h3v3h-3zM327.5 123.5h3v3h-3zM423.5 79.5h3v3h-3zM316.5 88.5h3v3h-3zM321.5 120.5h3v3h-3zM339.5 82.5h3v3h-3zM311.5 104.5h3v3h-3zM403.5 76.5h3v3h-3zM362.5 90.5h3v3h-3zM316.5 141.5h3v3h-3zM334.5 67.5h3v3h-3zM428.5 81.5h3v3h-3zM327.5 116.5h3v3h-3zM396.5 89.5h3v3h-3zM314.5 126.5h3v3h-3zM368.5 84.5h3v3h-3zM319.5 64.5h3v3h-3zM338.5 92.5h3v3h-3zM417.5 86.5h3v3h-3zM326.5 151.5h3v3h-3zM320.5 131.5h3v3h-3zM438.5 84.5h3v3h-3zM325.5 147.5h3v3h-3zM345.5 82.5h3v3h-3zM313.5 85.5h3v3h-3zM331.5 108.5h3v3h-3zM392.5 80.5h3v3h-3zM328.5 134.5h3v3h-3zM323.5 74.5h3v3h-3zM314.5 153.5h3v3h-3zM317.5 106.5h3v3h-3zM408.5 78.5h3v3h-3zM358.5 87.5h3v3h-3zM312.5 97.5h3v3h-3zM320.5 76.5h3v3h-3zM311.5 169.5h3v3h-3zM379.5 81.5h3v3h-3zM443.5 80.5h3v3h-3zM334.5 93.5h3v3h-3zM318.5 158.5h3v3h-3zM332.5 74.5h3v3h-3zM428.5 88.5h3v3h-3zM310.5 83.5h3v3h-3zM378.5 91.5h3v3h-3zM315.5 128.5h3v3h-3zM475.5 52.5h3v3h-3zM476.5 57.5h3v3h-3zM472.5 41.5h3v3h-3zM474.5 39.5h3v3h-3zM471.5 51.5h3v3h-3zM473.5 40.5h3v3h-3zM473.5 53.5h3v3h-3zM475.5 45.5h3v3h-3zM474.5 48.5h3v3h-3zM470.5 56.5h3v3h-3zM471.5 44.5h3v3h-3zM473.5 49.5h3v3h-3zM475.5 41.5h3v3h-3zM471.5 46.5h3v3h-3zM473.5 54.5h3v3h-3zM474.5 43.5h3v3h-3zM470.5 48.5h3v3h-3zM474.5 56.5h3v3h-3zM475.5 37.5h3v3h-3zM472.5 53.5h3v3h-3zM475.5 50.5h3v3h-3zM471.5 58.5h3v3h-3zM473.5 42.5h3v3h-3zM399.5 47.5h3v3h-3zM405.5 57.5h3v3h-3zM419.5 58.5h3v3h-3zM426.5 54.5h3v3h-3zM426.5 61.5h3v3h-3zM431.5 60.5h3v3h-3zM430.5 67.5h3v3h-3zM421.5 67.5h3v3h-3zM414.5 66.5h3v3h-3zM428.5 69.5h3v3h-3zM446.5 56.5h3v3h-3zM448.5 66.5h3v3h-3zM455.5 48.5h3v3h-3zM461.5 54.5h3v3h-3zM468.5 50.5h3v3h-3zM412.5 74.5h3v3h-3zM416.5 74.5h3v3h-3zM422.5 72.5h3v3h-3zM435.5 74.5h3v3h-3zM446.5 80.5h3v3h-3zM468.5 79.5h3v3h-3zM469.5 80.5h3v3h-3zM471.5 80.5h3v3h-3zM473.5 79.5h3v3h-3zM470.5 78.5h3v3h-3zM473.5 72.5h3v3h-3zM472.5 64.5h3v3h-3zM474.5 61.5h3v3h-3zM469.5 77.5h3v3h-3zM321.5 55.5h3v3h-3zM318.5 57.5h3v3h-3zM323.5 58.5h3v3h-3zM317.5 60.5h3v3h-3zM327.5 60.5h3v3h-3zM320.5 61.5h3v3h-3zM330.5 61.5h3v3h-3zM315.5 63.5h3v3h-3zM325.5 63.5h3v3h-3zM333.5 64.5h3v3h-3zM338.5 165.5h3v3h-3zM369.5 171.5h3v3h-3zM319.5 170.5h3v3h-3zM332.5 147.5h3v3h-3zM328.5 142.5h3v3h-3zM337.5 57.5h3v3h-3zM343.5 59.5h3v3h-3zM348.5 56.5h3v3h-3zM360.5 61.5h3v3h-3zM368.5 59.5h3v3h-3zM376.5 51.5h3v3h-3zM385.5 64.5h3v3h-3zM357.5 68.5h3v3h-3zM373.5 67.5h3v3h-3zM393.5 69.5h3v3h-3zM401.5 71.5h3v3h-3zM410.5 68.5h3v3h-3z" fill="none" stroke="#4f7b7b" stroke-width="0.5"/><path d="M628.5 102.5h3v3h-3zM683.5 74.5h3v3h-3zM572.5 109.5h3v3h-3zM586.5 129.5h3v3h-3zM642.5 117.5h3v3h-3zM621.5 116.5h3v3h-3zM667.5 65.5h3v3h-3zM649.5 96.5h3v3h-3zM681.5 108.5h3v3h-3zM653.5 122.5h3v3h-3zM599.5 111.5h3v3h-3zM571.5 142.5h3v3h-3zM659.5 90.5h3v3h-3zM566.5 114.5h3v3h-3zM631.5 67.5h3v3h-3zM583.5 98.5h3v3h-3zM638.5 82.5h3v3h-3zM666.5 106.5h3v3h-3zM610.5 128.5h3v3h-3zM596.5 112.5h3v3h-3zM618.5 97.5h3v3h-3zM674.5 73.5h3v3h-3zM646.5 103.5h3v3h-3zM632.5 99.5h3v3h-3zM576.5 119.5h3v3h-3zM583.5 126.5h3v3h-3zM685.5 87.5h3v3h-3zM616.5 106.5h3v3h-3zM691.5 81.5h3v3h-3zM672.5 105.5h3v3h-3zM663.5 113.5h3v3h-3zM570.5 101.5h3v3h-3zM603.5 121.5h3v3h-3zM594.5 92.5h3v3h-3zM575.5 139.5h3v3h-3zM649.5 68.5h3v3h-3zM568.5 148.5h3v3h-3zM642.5 78.5h3v3h-3zM633.5 113.5h3v3h-3zM581.5 133.5h3v3h-3zM637.5 93.5h3v3h-3zM623.5 92.5h3v3h-3zM567.5 104.5h3v3h-3zM669.5 76.5h3v3h-3zM651.5 100.5h3v3h-3zM676.5 120.5h3v3h-3zM574.5 114.5h3v3h-3zM607.5 87.5h3v3h-3zM690.5 95.5h3v3h-3zM654.5 106.5h3v3h-3zM626.5 78.5h3v3h-3zM608.5 102.5h3v3h-3zM682.5 121.5h3v3h-3zM585.5 110.5h3v3h-3zM566.5 129.5h3v3h-3zM668.5 117.5h3v3h-3zM694.5 92.5h3v3h-3zM573.5 136.5h3v3h-3zM624.5 100.5h3v3h-3zM661.5 96.5h3v3h-3zM680.5 85.5h3v3h-3zM568.5 120.5h3v3h-3zM596.5 127.5h3v3h-3zM652.5 115.5h3v3h-3zM627.5 111.5h3v3h-3zM571.5 95.5h3v3h-3zM659.5 72.5h3v3h-3zM641.5 90.5h3v3h-3zM687.5 102.5h3v3h-3zM576.5 122.5h3v3h-3zM564.5 98.5h3v3h-3zM639.5 130.5h3v3h-3zM611.5 118.5h3v3h-3zM569.5 140.5h3v3h-3zM671.5 89.5h3v3h-3zM589.5 109.5h3v3h-3zM570.5 151.5h3v3h-3zM644.5 80.5h3v3h-3zM658.5 103.5h3v3h-3zM603.5 123.5h3v3h-3zM582.5 119.5h3v3h-3zM628.5 90.5h3v3h-3zM642.5 97.5h3v3h-3zM614.5 82.5h3v3h-3zM618.5 105.5h3v3h-3zM563.5 116.5h3v3h-3zM591.5 124.5h3v3h-3zM679.5 96.5h3v3h-3zM602.5 103.5h3v3h-3zM686.5 99.5h3v3h-3zM574.5 130.5h3v3h-3zM662.5 118.5h3v3h-3zM570.5 107.5h3v3h-3zM616.5 114.5h3v3h-3zM664.5 94.5h3v3h-3zM696.5 106.5h3v3h-3zM620.5 112.5h3v3h-3zM675.5 61.5h3v3h-3zM647.5 91.5h3v3h-3zM633.5 87.5h3v3h-3zM578.5 99.5h3v3h-3zM655.5 83.5h3v3h-3zM636.5 107.5h3v3h-3zM627.5 126.5h3v3h-3zM683.5 114.5h3v3h-3zM567.5 110.5h3v3h-3zM613.5 94.5h3v3h-3zM676.5 93.5h3v3h-3zM667.5 105.5h3v3h-3zM625.5 77.5h3v3h-3zM597.5 121.5h3v3h-3zM700.5 88.5h3v3h-3zM566.5 143.5h3v3h-3zM631.5 107.5h3v3h-3zM686.5 78.5h3v3h-3zM693.5 101.5h3v3h-3zM582.5 121.5h3v3h-3zM638.5 109.5h3v3h-3zM670.5 69.5h3v3h-3zM674.5 100.5h3v3h-3zM572.5 108.5h3v3h-3zM646.5 126.5h3v3h-3zM604.5 115.5h3v3h-3zM688.5 111.5h3v3h-3zM576.5 134.5h3v3h-3zM658.5 95.5h3v3h-3zM565.5 118.5h3v3h-3zM630.5 71.5h3v3h-3zM588.5 102.5h3v3h-3zM569.5 145.5h3v3h-3zM644.5 74.5h3v3h-3zM671.5 98.5h3v3h-3zM589.5 116.5h3v3h-3zM571.5 124.5h3v3h-3zM622.5 89.5h3v3h-3zM649.5 108.5h3v3h-3zM629.5 103.5h3v3h-3zM573.5 111.5h3v3h-3zM689.5 91.5h3v3h-3zM608.5 98.5h3v3h-3zM696.5 83.5h3v3h-3zM678.5 106.5h3v3h-3zM566.5 129.5h3v3h-3zM669.5 117.5h3v3h-3zM576.5 105.5h3v3h-3zM601.5 113.5h3v3h-3zM592.5 97.5h3v3h-3zM648.5 74.5h3v3h-3zM662.5 92.5h3v3h-3zM626.5 119.5h3v3h-3zM607.5 125.5h3v3h-3zM640.5 85.5h3v3h-3zM563.5 105.5h3v3h-3zM665.5 80.5h3v3h-3zM647.5 104.5h3v3h-3zM623.5 123.5h3v3h-3zM679.5 112.5h3v3h-3zM568.5 135.5h3v3h-3zM577.5 120.5h3v3h-3zM684.5 87.5h3v3h-3zM572.5 146.5h3v3h-3zM660.5 99.5h3v3h-3zM633.5 83.5h3v3h-3zM614.5 106.5h3v3h-3zM584.5 113.5h3v3h-3zM565.5 121.5h3v3h-3zM700.5 94.5h3v3h-3zM617.5 104.5h3v3h-3zM673.5 77.5h3v3h-3zM590.5 132.5h3v3h-3zM645.5 120.5h3v3h-3zM631.5 115.5h3v3h-3zM657.5 64.5h3v3h-3zM638.5 95.5h3v3h-3zM685.5 107.5h3v3h-3zM569.5 102.5h3v3h-3zM643.5 122.5h3v3h-3zM615.5 110.5h3v3h-3zM664.5 93.5h3v3h-3zM572.5 116.5h3v3h-3zM595.5 101.5h3v3h-3zM650.5 85.5h3v3h-3zM657.5 109.5h3v3h-3zM602.5 127.5h3v3h-3zM569.5 131.5h3v3h-3zM634.5 95.5h3v3h-3zM690.5 72.5h3v3h-3zM635.5 101.5h3v3h-3zM622.5 97.5h3v3h-3zM677.5 82.5h3v3h-3zM566.5 117.5h3v3h-3zM649.5 116.5h3v3h-3zM675.5 88.5h3v3h-3zM573.5 96.5h3v3h-3zM605.5 108.5h3v3h-3zM689.5 103.5h3v3h-3zM577.5 122.5h3v3h-3zM655.5 110.5h3v3h-3zM586.5 90.5h3v3h-3zM567.5 137.5h3v3h-3zM669.5 86.5h3v3h-3zM695.5 98.5h3v3h-3zM593.5 106.5h3v3h-3zM625.5 116.5h3v3h-3zM653.5 97.5h3v3h-3zM571.5 103.5h3v3h-3zM659.5 76.5h3v3h-3zM640.5 99.5h3v3h-3zM687.5 119.5h3v3h-3zM564.5 114.5h3v3h-3zM610.5 86.5h3v3h-3zM680.5 94.5h3v3h-3zM670.5 106.5h3v3h-3zM618.5 81.5h3v3h-3zM599.5 105.5h3v3h-3zM673.5 124.5h3v3h-3zM590.5 113.5h3v3h-3zM571.5 132.5h3v3h-3zM646.5 62.5h3v3h-3zM564.5 135.5h3v3h-3zM629.5 100.5h3v3h-3zM685.5 84.5h3v3h-3zM588.5 125.5h3v3h-3zM643.5 113.5h3v3h-3zM617.5 109.5h3v3h-3zM663.5 70.5h3v3h-3zM644.5 92.5h3v3h-3zM677.5 104.5h3v3h-3zM575.5 100.5h3v3h-3zM600.5 120.5h3v3h-3zM573.5 138.5h3v3h-3zM661.5 87.5h3v3h-3zM568.5 111.5h3v3h-3zM614.5 95.5h3v3h-3zM581.5 107.5h3v3h-3zM637.5 78.5h3v3h-3zM665.5 102.5h3v3h-3zM609.5 122.5h3v3h-3zM595.5 118.5h3v3h-3zM577.5 128.5h3v3h-3zM621.5 93.5h3v3h-3zM676.5 69.5h3v3h-3zM565.5 105.5h3v3h-3zM649.5 101.5h3v3h-3zM607.5 85.5h3v3h-3zM635.5 109.5h3v3h-3zM579.5 115.5h3v3h-3zM636.5 111.5h3v3h-3zM682.5 95.5h3v3h-3zM613.5 102.5h3v3h-3zM675.5 99.5h3v3h-3zM564.5 130.5h3v3h-3zM666.5 118.5h3v3h-3zM573.5 106.5h3v3h-3zM596.5 89.5h3v3h-3zM652.5 66.5h3v3h-3zM655.5 97.5h3v3h-3zM701.5 109.5h3v3h-3zM660.5 123.5h3v3h-3zM567.5 147.5h3v3h-3zM632.5 112.5h3v3h-3zM639.5 89.5h3v3h-3zM625.5 86.5h3v3h-3zM569.5 97.5h3v3h-3zM671.5 82.5h3v3h-3zM653.5 105.5h3v3h-3zM672.5 116.5h3v3h-3zM570.5 112.5h3v3h-3zM603.5 96.5h3v3h-3zM686.5 91.5h3v3h-3zM656.5 103.5h3v3h-3zM628.5 75.5h3v3h-3zM610.5 99.5h3v3h-3zM587.5 118.5h3v3h-3zM568.5 125.5h3v3h-3zM670.5 113.5h3v3h-3zM692.5 86.5h3v3h-3zM572.5 141.5h3v3h-3zM623.5 106.5h3v3h-3zM678.5 81.5h3v3h-3zM567.5 116.5h3v3h-3zM595.5 124.5h3v3h-3zM651.5 112.5h3v3h-3zM662.5 68.5h3v3h-3zM644.5 87.5h3v3h-3zM690.5 99.5h3v3h-3zM636.5 126.5h3v3h-3zM608.5 114.5h3v3h-3zM645.5 102.5h3v3h-3zM622.5 122.5h3v3h-3zM566.5 134.5h3v3h-3zM668.5 94.5h3v3h-3zM575.5 118.5h3v3h-3zM619.5 71.5h3v3h-3zM591.5 105.5h3v3h-3zM647.5 77.5h3v3h-3zM661.5 101.5h3v3h-3zM633.5 85.5h3v3h-3zM580.5 115.5h3v3h-3zM627.5 88.5h3v3h-3zM641.5 107.5h3v3h-3zM613.5 78.5h3v3h-3zM620.5 101.5h3v3h-3zM564.5 109.5h3v3h-3zM680.5 92.5h3v3h-3zM598.5 100.5h3v3h-3zM681.5 108.5h3v3h-3zM570.5 126.5h3v3h-3zM658.5 115.5h3v3h-3zM565.5 103.5h3v3h-3zM612.5 111.5h3v3h-3zM563.5 142.5h3v3h-3zM637.5 71.5h3v3h-3zM698.5 102.5h3v3h-3zM651.5 82.5h3v3h-3zM619.5 118.5h3v3h-3zM646.5 89.5h3v3h-3zM632.5 97.5h3v3h-3zM577.5 108.5h3v3h-3zM658.5 80.5h3v3h-3zM639.5 103.5h3v3h-3zM630.5 123.5h3v3h-3zM686.5 111.5h3v3h-3zM626.5 99.5h3v3h-3zM570.5 119.5h3v3h-3zM616.5 90.5h3v3h-3zM664.5 98.5h3v3h-3zM622.5 83.5h3v3h-3zM603.5 106.5h3v3h-3zM594.5 117.5h3v3h-3zM576.5 125.5h3v3h-3zM657.5 113.5h3v3h-3zM569.5 139.5h3v3h-3zM634.5 104.5h3v3h-3zM689.5 76.5h3v3h-3zM692.5 100.5h3v3h-3zM581.5 131.5h3v3h-3zM637.5 119.5h3v3h-3zM623.5 113.5h3v3h-3zM650.5 94.5h3v3h-3zM676.5 105.5h3v3h-3zM574.5 104.5h3v3h-3zM648.5 124.5h3v3h-3zM606.5 112.5h3v3h-3zM654.5 91.5h3v3h-3zM626.5 67.5h3v3h-3zM584.5 99.5h3v3h-3zM640.5 83.5h3v3h-3zM668.5 107.5h3v3h-3zM612.5 126.5h3v3h-3zM693.5 114.5h3v3h-3zM591.5 110.5h3v3h-3zM573.5 129.5h3v3h-3zM624.5 94.5h3v3h-3zM679.5 70.5h3v3h-3zM652.5 105.5h3v3h-3zM628.5 101.5h3v3h-3zM572.5 120.5h3v3h-3zM586.5 127.5h3v3h-3zM688.5 88.5h3v3h-3zM611.5 107.5h3v3h-3zM681.5 102.5h3v3h-3zM570.5 122.5h3v3h-3zM672.5 110.5h3v3h-3zM599.5 118.5h3v3h-3zM571.5 140.5h3v3h-3zM645.5 70.5h3v3h-3zM659.5 89.5h3v3h-3zM629.5 115.5h3v3h-3zM643.5 96.5h3v3h-3zM664.5 74.5h3v3h-3zM646.5 97.5h3v3h-3zM622.5 129.5h3v3h-3zM678.5 117.5h3v3h-3zM576.5 116.5h3v3h-3zM601.5 88.5h3v3h-3zM685.5 96.5h3v3h-3zM662.5 108.5h3v3h-3zM634.5 79.5h3v3h-3zM615.5 103.5h3v3h-3zM579.5 110.5h3v3h-3zM695.5 90.5h3v3h-3zM575.5 133.5h3v3h-3zM619.5 98.5h3v3h-3zM675.5 82.5h3v3h-3zM591.5 128.5h3v3h-3zM647.5 116.5h3v3h-3zM577.5 96.5h3v3h-3zM656.5 73.5h3v3h-3zM637.5 91.5h3v3h-3zM683.5 103.5h3v3h-3zM572.5 123.5h3v3h-3zM567.5 99.5h3v3h-3zM669.5 83.5h3v3h-3zM614.5 119.5h3v3h-3zM676.5 114.5h3v3h-3zM565.5 137.5h3v3h-3zM667.5 86.5h3v3h-3zM574.5 110.5h3v3h-3zM598.5 106.5h3v3h-3zM653.5 81.5h3v3h-3zM599.5 124.5h3v3h-3zM566.5 127.5h3v3h-3zM631.5 92.5h3v3h-3zM638.5 99.5h3v3h-3zM610.5 84.5h3v3h-3zM624.5 107.5h3v3h-3zM569.5 113.5h3v3h-3zM596.5 121.5h3v3h-3zM652.5 109.5h3v3h-3zM674.5 93.5h3v3h-3zM604.5 104.5h3v3h-3zM687.5 100.5h3v3h-3zM576.5 131.5h3v3h-3zM657.5 120.5h3v3h-3zM565.5 108.5h3v3h-3zM611.5 114.5h3v3h-3zM569.5 134.5h3v3h-3zM671.5 95.5h3v3h-3zM691.5 107.5h3v3h-3zM663.5 121.5h3v3h-3zM570.5 145.5h3v3h-3zM621.5 110.5h3v3h-3zM649.5 93.5h3v3h-3zM573.5 100.5h3v3h-3zM661.5 85.5h3v3h-3zM642.5 108.5h3v3h-3zM633.5 127.5h3v3h-3zM689.5 115.5h3v3h-3zM609.5 95.5h3v3h-3zM678.5 90.5h3v3h-3zM567.5 149.5h3v3h-3zM669.5 102.5h3v3h-3zM620.5 75.5h3v3h-3zM593.5 118.5h3v3h-3zM574.5 128.5h3v3h-3zM626.5 109.5h3v3h-3zM682.5 80.5h3v3h-3zM696.5 104.5h3v3h-3zM585.5 123.5h3v3h-3zM640.5 111.5h3v3h-3zM619.5 119.5h3v3h-3zM666.5 66.5h3v3h-3zM680.5 98.5h3v3h-3zM578.5 105.5h3v3h-3zM655.5 80.5h3v3h-3zM599.5 116.5h3v3h-3zM571.5 136.5h3v3h-3zM659.5 96.5h3v3h-3zM567.5 120.5h3v3h-3zM631.5 73.5h3v3h-3zM613.5 91.5h3v3h-3zM583.5 103.5h3v3h-3zM564.5 146.5h3v3h-3zM638.5 75.5h3v3h-3zM666.5 99.5h3v3h-3zM611.5 130.5h3v3h-3zM616.5 86.5h3v3h-3zM672.5 63.5h3v3h-3zM644.5 106.5h3v3h-3zM630.5 105.5h3v3h-3zM575.5 112.5h3v3h-3zM637.5 120.5h3v3h-3zM684.5 91.5h3v3h-3zM614.5 99.5h3v3h-3zM693.5 84.5h3v3h-3zM563.5 126.5h3v3h-3zM665.5 114.5h3v3h-3zM572.5 102.5h3v3h-3zM605.5 110.5h3v3h-3zM595.5 94.5h3v3h-3zM651.5 71.5h3v3h-3zM658.5 93.5h3v3h-3zM635.5 121.5h3v3h-3zM636.5 88.5h3v3h-3zM566.5 108.5h3v3h-3zM669.5 78.5h3v3h-3zM650.5 101.5h3v3h-3zM620.5 121.5h3v3h-3zM675.5 109.5h3v3h-3zM573.5 117.5h3v3h-3zM606.5 92.5h3v3h-3zM689.5 88.5h3v3h-3zM655.5 100.5h3v3h-3zM627.5 84.5h3v3h-3zM609.5 108.5h3v3h-3zM586.5 114.5h3v3h-3zM678.5 102.5h3v3h-3zM567.5 122.5h3v3h-3zM695.5 95.5h3v3h-3zM574.5 137.5h3v3h-3zM625.5 102.5h3v3h-3zM597.5 129.5h3v3h-3zM653.5 117.5h3v3h-3zM626.5 116.5h3v3h-3zM659.5 65.5h3v3h-3zM640.5 96.5h3v3h-3zM686.5 108.5h3v3h-3zM638.5 123.5h3v3h-3zM610.5 111.5h3v3h-3zM568.5 142.5h3v3h-3zM670.5 90.5h3v3h-3zM591.5 98.5h3v3h-3zM646.5 82.5h3v3h-3zM660.5 106.5h3v3h-3zM604.5 128.5h3v3h-3zM584.5 113.5h3v3h-3zM565.5 132.5h3v3h-3zM630.5 97.5h3v3h-3zM686.5 73.5h3v3h-3zM574.5 109.5h3v3h-3zM644.5 103.5h3v3h-3zM616.5 76.5h3v3h-3zM617.5 99.5h3v3h-3zM673.5 84.5h3v3h-3zM645.5 113.5h3v3h-3zM677.5 86.5h3v3h-3zM566.5 145.5h3v3h-3zM601.5 105.5h3v3h-3zM684.5 104.5h3v3h-3zM573.5 124.5h3v3h-3zM661.5 112.5h3v3h-3zM568.5 100.5h3v3h-3zM633.5 61.5h3v3h-3zM636.5 67.5h3v3h-3zM664.5 87.5h3v3h-3zM697.5 99.5h3v3h-3zM595.5 107.5h3v3h-3zM620.5 114.5h3v3h-3zM592.5 133.5h3v3h-3zM648.5 94.5h3v3h-3zM634.5 93.5h3v3h-3zM578.5 104.5h3v3h-3zM654.5 77.5h3v3h-3zM635.5 100.5h3v3h-3zM682.5 120.5h3v3h-3zM566.5 115.5h3v3h-3zM612.5 87.5h3v3h-3zM675.5 95.5h3v3h-3zM665.5 107.5h3v3h-3zM624.5 79.5h3v3h-3zM605.5 102.5h3v3h-3zM679.5 122.5h3v3h-3zM596.5 110.5h3v3h-3zM577.5 130.5h3v3h-3zM656.5 118.5h3v3h-3zM567.5 136.5h3v3h-3zM632.5 101.5h3v3h-3zM688.5 85.5h3v3h-3zM584.5 127.5h3v3h-3zM639.5 115.5h3v3h-3zM625.5 111.5h3v3h-3zM570.5 96.5h3v3h-3zM672.5 72.5h3v3h-3zM653.5 90.5h3v3h-3zM673.5 102.5h3v3h-3zM571.5 98.5h3v3h-3zM603.5 117.5h3v3h-3zM576.5 140.5h3v3h-3zM657.5 88.5h3v3h-3zM564.5 112.5h3v3h-3zM629.5 65.5h3v3h-3zM587.5 108.5h3v3h-3zM569.5 150.5h3v3h-3zM643.5 79.5h3v3h-3zM671.5 103.5h3v3h-3zM615.5 123.5h3v3h-3zM692.5 111.5h3v3h-3zM590.5 119.5h3v3h-3zM572.5 126.5h3v3h-3zM623.5 90.5h3v3h-3zM678.5 67.5h3v3h-3zM650.5 98.5h3v3h-3zM602.5 82.5h3v3h-3zM630.5 106.5h3v3h-3zM574.5 116.5h3v3h-3zM588.5 124.5h3v3h-3zM690.5 97.5h3v3h-3zM607.5 103.5h3v3h-3zM677.5 99.5h3v3h-3zM566.5 131.5h3v3h-3zM668.5 119.5h3v3h-3zM575.5 107.5h3v3h-3zM601.5 114.5h3v3h-3zM573.5 134.5h3v3h-3zM647.5 63.5h3v3h-3zM661.5 95.5h3v3h-3zM655.5 125.5h3v3h-3zM637.5 78.5h3v3h-3zM627.5 113.5h3v3h-3zM641.5 92.5h3v3h-3zM621.5 88.5h3v3h-3zM565.5 100.5h3v3h-3zM667.5 84.5h3v3h-3zM648.5 108.5h3v3h-3zM625.5 125.5h3v3h-3zM681.5 113.5h3v3h-3zM598.5 93.5h3v3h-3zM682.5 92.5h3v3h-3zM571.5 151.5h3v3h-3zM659.5 104.5h3v3h-3zM631.5 76.5h3v3h-3zM612.5 100.5h3v3h-3zM582.5 120.5h3v3h-3zM564.5 126.5h3v3h-3zM666.5 114.5h3v3h-3zM618.5 106.5h3v3h-3zM673.5 78.5h3v3h-3zM590.5 121.5h3v3h-3zM645.5 110.5h3v3h-3zM576.5 93.5h3v3h-3zM638.5 89.5h3v3h-3zM685.5 100.5h3v3h-3zM574.5 132.5h3v3h-3zM569.5 108.5h3v3h-3zM643.5 127.5h3v3h-3zM615.5 115.5h3v3h-3zM672.5 111.5h3v3h-3zM663.5 95.5h3v3h-3zM570.5 119.5h3v3h-3zM621.5 72.5h3v3h-3zM593.5 102.5h3v3h-3zM649.5 75.5h3v3h-3zM656.5 98.5h3v3h-3zM628.5 82.5h3v3h-3zM586.5 117.5h3v3h-3zM568.5 124.5h3v3h-3zM633.5 89.5h3v3h-3zM693.5 97.5h3v3h-3zM637.5 109.5h3v3h-3zM609.5 80.5h3v3h-3zM623.5 103.5h3v3h-3zM568.5 111.5h3v3h-3zM670.5 60.5h3v3h-3zM677.5 90.5h3v3h-3zM607.5 97.5h3v3h-3zM690.5 105.5h3v3h-3zM579.5 128.5h3v3h-3zM654.5 116.5h3v3h-3zM608.5 112.5h3v3h-3zM566.5 143.5h3v3h-3zM641.5 73.5h3v3h-3zM668.5 91.5h3v3h-3zM694.5 103.5h3v3h-3zM648.5 83.5h3v3h-3zM624.5 118.5h3v3h-3zM652.5 86.5h3v3h-3zM627.5 94.5h3v3h-3zM572.5 106.5h3v3h-3zM660.5 81.5h3v3h-3zM641.5 104.5h3v3h-3zM632.5 124.5h3v3h-3zM688.5 112.5h3v3h-3zM565.5 120.5h3v3h-3zM611.5 91.5h3v3h-3zM569.5 146.5h3v3h-3zM671.5 99.5h3v3h-3zM617.5 83.5h3v3h-3zM598.5 107.5h3v3h-3zM589.5 114.5h3v3h-3zM570.5 122.5h3v3h-3zM659.5 110.5h3v3h-3zM628.5 105.5h3v3h-3zM684.5 77.5h3v3h-3zM587.5 132.5h3v3h-3zM642.5 121.5h3v3h-3zM665.5 64.5h3v3h-3zM646.5 96.5h3v3h-3zM679.5 108.5h3v3h-3zM567.5 125.5h3v3h-3zM577.5 101.5h3v3h-3zM651.5 121.5h3v3h-3zM602.5 109.5h3v3h-3zM574.5 141.5h3v3h-3zM662.5 92.5h3v3h-3zM570.5 116.5h3v3h-3zM634.5 69.5h3v3h-3zM580.5 100.5h3v3h-3zM673.5 96.5h3v3h-3zM636.5 84.5h3v3h-3zM608.5 126.5h3v3h-3zM594.5 111.5h3v3h-3zM575.5 130.5h3v3h-3zM619.5 95.5h3v3h-3zM675.5 71.5h3v3h-3zM647.5 102.5h3v3h-3zM633.5 98.5h3v3h-3zM578.5 118.5h3v3h-3zM636.5 116.5h3v3h-3zM683.5 89.5h3v3h-3zM613.5 108.5h3v3h-3zM694.5 80.5h3v3h-3zM676.5 103.5h3v3h-3zM564.5 123.5h3v3h-3zM666.5 111.5h3v3h-3zM606.5 119.5h3v3h-3zM597.5 91.5h3v3h-3zM652.5 67.5h3v3h-3zM654.5 87.5h3v3h-3zM630.5 117.5h3v3h-3zM637.5 97.5h3v3h-3zM623.5 92.5h3v3h-3zM568.5 104.5h3v3h-3zM670.5 76.5h3v3h-3zM651.5 100.5h3v3h-3zM674.5 119.5h3v3h-3zM572.5 113.5h3v3h-3zM688.5 93.5h3v3h-3zM658.5 105.5h3v3h-3zM630.5 80.5h3v3h-3zM611.5 104.5h3v3h-3zM588.5 112.5h3v3h-3zM570.5 131.5h3v3h-3zM644.5 61.5h3v3h-3zM691.5 91.5h3v3h-3zM571.5 134.5h3v3h-3zM622.5 99.5h3v3h-3zM678.5 83.5h3v3h-3zM594.5 125.5h3v3h-3zM650.5 113.5h3v3h-3zM629.5 109.5h3v3h-3zM661.5 70.5h3v3h-3zM587.5 62.5h3v3h-3zM586.5 74.5h3v3h-3zM604.5 150.5h3v3h-3zM628.5 144.5h3v3h-3zM645.5 153.5h3v3h-3zM636.5 40.5h3v3h-3zM656.5 38.5h3v3h-3zM668.5 40.5h3v3h-3zM671.5 37.5h3v3h-3zM679.5 53.5h3v3h-3zM686.5 55.5h3v3h-3zM674.5 120.5h3v3h-3zM674.5 121.5h3v3h-3zM679.5 132.5h3v3h-3zM674.5 157.5h3v3h-3zM699.5 157.5h3v3h-3zM702.5 157.5h3v3h-3zM708.5 157.5h3v3h-3zM715.5 157.5h3v3h-3zM723.5 157.5h3v3h-3zM720.5 169.5h3v3h-3zM723.5 169.5h3v3h-3zM725.5 169.5h3v3h-3zM728.5 169.5h3v3h-3zM605.5 63.5h3v3h-3zM610.5 66.5h3v3h-3zM600.5 70.5h3v3h-3zM618.5 61.5h3v3h-3zM623.5 58.5h3v3h-3zM638.5 54.5h3v3h-3zM646.5 55.5h3v3h-3zM655.5 53.5h3v3h-3zM663.5 50.5h3v3h-3zM650.5 134.5h3v3h-3zM660.5 130.5h3v3h-3zM688.5 130.5h3v3h-3z" fill="none" stroke="#4f7b7b" stroke-width="0.5"/><path d="M92.5 346.5h3v3h-3zM158.5 368.5h3v3h-3zM75.5 353.5h3v3h-3zM116.5 387.5h3v3h-3zM133.5 351.5h3v3h-3zM96.5 373.5h3v3h-3zM112.5 392.5h3v3h-3zM137.5 359.5h3v3h-3zM94.5 381.5h3v3h-3zM110.5 342.5h3v3h-3zM86.5 356.5h3v3h-3zM69.5 369.5h3v3h-3zM131.5 354.5h3v3h-3zM147.5 367.5h3v3h-3zM90.5 389.5h3v3h-3zM106.5 352.5h3v3h-3zM74.5 372.5h3v3h-3zM99.5 362.5h3v3h-3zM161.5 346.5h3v3h-3zM78.5 382.5h3v3h-3zM54.5 343.5h3v3h-3zM120.5 365.5h3v3h-3zM103.5 387.5h3v3h-3zM93.5 351.5h3v3h-3zM109.5 370.5h3v3h-3zM150.5 355.5h3v3h-3zM134.5 337.5h3v3h-3zM97.5 359.5h3v3h-3zM130.5 373.5h3v3h-3zM113.5 395.5h3v3h-3zM155.5 356.5h3v3h-3zM72.5 347.5h3v3h-3zM125.5 383.5h3v3h-3zM109.5 354.5h3v3h-3zM142.5 345.5h3v3h-3zM84.5 367.5h3v3h-3zM100.5 381.5h3v3h-3zM166.5 352.5h3v3h-3zM68.5 374.5h3v3h-3zM80.5 350.5h3v3h-3zM146.5 372.5h3v3h-3zM121.5 391.5h3v3h-3zM94.5 376.5h3v3h-3zM78.5 361.5h3v3h-3zM119.5 344.5h3v3h-3zM98.5 380.5h3v3h-3zM115.5 349.5h3v3h-3zM82.5 392.5h3v3h-3zM74.5 366.5h3v3h-3zM124.5 352.5h3v3h-3zM108.5 374.5h3v3h-3zM83.5 386.5h3v3h-3zM128.5 362.5h3v3h-3zM112.5 383.5h3v3h-3zM87.5 345.5h3v3h-3zM104.5 360.5h3v3h-3zM77.5 379.5h3v3h-3zM143.5 350.5h3v3h-3zM85.5 372.5h3v3h-3zM118.5 370.5h3v3h-3zM102.5 391.5h3v3h-3zM97.5 355.5h3v3h-3zM91.5 358.5h3v3h-3zM108.5 394.5h3v3h-3zM75.5 370.5h3v3h-3zM116.5 356.5h3v3h-3zM67.5 344.5h3v3h-3zM133.5 366.5h3v3h-3zM129.5 381.5h3v3h-3zM112.5 352.5h3v3h-3zM87.5 364.5h3v3h-3zM71.5 371.5h3v3h-3zM127.5 340.5h3v3h-3zM110.5 361.5h3v3h-3zM65.5 343.5h3v3h-3zM81.5 357.5h3v3h-3zM89.5 350.5h3v3h-3zM122.5 348.5h3v3h-3zM106.5 369.5h3v3h-3zM90.5 384.5h3v3h-3zM156.5 355.5h3v3h-3zM74.5 389.5h3v3h-3zM115.5 375.5h3v3h-3zM111.5 372.5h3v3h-3zM78.5 348.5h3v3h-3zM136.5 344.5h3v3h-3zM125.5 359.5h3v3h-3zM109.5 380.5h3v3h-3zM84.5 342.5h3v3h-3zM150.5 364.5h3v3h-3zM68.5 349.5h3v3h-3zM88.5 376.5h3v3h-3zM105.5 389.5h3v3h-3zM72.5 360.5h3v3h-3zM125.5 343.5h3v3h-3zM141.5 357.5h3v3h-3zM84.5 379.5h3v3h-3zM117.5 393.5h3v3h-3zM100.5 347.5h3v3h-3zM96.5 362.5h3v3h-3zM80.5 368.5h3v3h-3zM121.5 354.5h3v3h-3zM104.5 375.5h3v3h-3zM137.5 366.5h3v3h-3zM94.5 387.5h3v3h-3zM111.5 351.5h3v3h-3zM53.5 342.5h3v3h-3zM69.5 378.5h3v3h-3zM98.5 345.5h3v3h-3zM115.5 359.5h3v3h-3zM90.5 396.5h3v3h-3zM156.5 342.5h3v3h-3zM73.5 379.5h3v3h-3zM124.5 369.5h3v3h-3zM83.5 354.5h3v3h-3zM99.5 367.5h3v3h-3zM79.5 387.5h3v3h-3zM120.5 372.5h3v3h-3zM103.5 394.5h3v3h-3zM159.5 362.5h3v3h-3zM77.5 346.5h3v3h-3zM118.5 382.5h3v3h-3zM101.5 353.5h3v3h-3zM134.5 344.5h3v3h-3zM97.5 365.5h3v3h-3zM114.5 380.5h3v3h-3zM72.5 356.5h3v3h-3zM138.5 377.5h3v3h-3zM125.5 388.5h3v3h-3zM84.5 373.5h3v3h-3zM67.5 356.5h3v3h-3zM129.5 347.5h3v3h-3zM112.5 368.5h3v3h-3zM88.5 383.5h3v3h-3zM104.5 345.5h3v3h-3zM71.5 389.5h3v3h-3zM77.5 364.5h3v3h-3zM119.5 350.5h3v3h-3zM102.5 372.5h3v3h-3zM98.5 391.5h3v3h-3zM65.5 362.5h3v3h-3zM123.5 360.5h3v3h-3zM91.5 343.5h3v3h-3zM107.5 358.5h3v3h-3zM74.5 350.5h3v3h-3zM116.5 392.5h3v3h-3zM132.5 355.5h3v3h-3zM95.5 377.5h3v3h-3zM111.5 388.5h3v3h-3zM87.5 351.5h3v3h-3zM153.5 373.5h3v3h-3zM109.5 346.5h3v3h-3zM85.5 361.5h3v3h-3zM81.5 342.5h3v3h-3zM146.5 364.5h3v3h-3zM89.5 386.5h3v3h-3zM122.5 379.5h3v3h-3zM105.5 350.5h3v3h-3zM92.5 369.5h3v3h-3zM76.5 376.5h3v3h-3zM134.5 375.5h3v3h-3zM97.5 397.5h3v3h-3zM80.5 380.5h3v3h-3zM72.5 363.5h3v3h-3zM127.5 345.5h3v3h-3zM111.5 366.5h3v3h-3zM86.5 381.5h3v3h-3zM152.5 352.5h3v3h-3zM70.5 386.5h3v3h-3zM66.5 349.5h3v3h-3zM132.5 371.5h3v3h-3zM115.5 393.5h3v3h-3zM107.5 376.5h3v3h-3zM141.5 343.5h3v3h-3zM83.5 365.5h3v3h-3zM116.5 357.5h3v3h-3zM100.5 379.5h3v3h-3zM95.5 348.5h3v3h-3zM79.5 355.5h3v3h-3zM120.5 389.5h3v3h-3zM137.5 353.5h3v3h-3zM93.5 375.5h3v3h-3zM110.5 387.5h3v3h-3zM77.5 358.5h3v3h-3zM135.5 363.5h3v3h-3zM114.5 344.5h3v3h-3zM89.5 359.5h3v3h-3zM73.5 364.5h3v3h-3zM125.5 349.5h3v3h-3zM83.5 390.5h3v3h-3zM100.5 354.5h3v3h-3zM79.5 374.5h3v3h-3zM87.5 343.5h3v3h-3zM104.5 357.5h3v3h-3zM94.5 394.5h3v3h-3zM160.5 348.5h3v3h-3zM77.5 384.5h3v3h-3zM118.5 367.5h3v3h-3zM102.5 389.5h3v3h-3zM98.5 353.5h3v3h-3zM114.5 365.5h3v3h-3zM73.5 392.5h3v3h-3zM139.5 341.5h3v3h-3zM91.5 363.5h3v3h-3zM124.5 377.5h3v3h-3zM148.5 359.5h3v3h-3zM66.5 342.5h3v3h-3zM128.5 378.5h3v3h-3zM144.5 347.5h3v3h-3zM86.5 368.5h3v3h-3zM103.5 383.5h3v3h-3zM169.5 354.5h3v3h-3zM70.5 376.5h3v3h-3zM76.5 352.5h3v3h-3zM142.5 374.5h3v3h-3zM117.5 386.5h3v3h-3zM97.5 371.5h3v3h-3zM80.5 362.5h3v3h-3zM121.5 346.5h3v3h-3zM105.5 368.5h3v3h-3zM92.5 383.5h3v3h-3zM109.5 344.5h3v3h-3zM117.5 373.5h3v3h-3zM67.5 370.5h3v3h-3zM129.5 356.5h3v3h-3zM113.5 378.5h3v3h-3zM88.5 388.5h3v3h-3zM127.5 357.5h3v3h-3zM111.5 378.5h3v3h-3zM86.5 347.5h3v3h-3zM102.5 362.5h3v3h-3zM69.5 354.5h3v3h-3zM65.5 367.5h3v3h-3zM82.5 382.5h3v3h-3zM148.5 353.5h3v3h-3zM123.5 365.5h3v3h-3zM107.5 387.5h3v3h-3zM91.5 350.5h3v3h-3zM157.5 372.5h3v3h-3zM95.5 361.5h3v3h-3zM112.5 397.5h3v3h-3zM79.5 365.5h3v3h-3zM120.5 351.5h3v3h-3zM70.5 348.5h3v3h-3zM136.5 370.5h3v3h-3zM93.5 392.5h3v3h-3zM126.5 385.5h3v3h-3zM110.5 356.5h3v3h-3zM85.5 366.5h3v3h-3zM68.5 373.5h3v3h-3zM114.5 357.5h3v3h-3zM89.5 393.5h3v3h-3zM59.5 345.5h3v3h-3zM75.5 360.5h3v3h-3zM84.5 353.5h3v3h-3zM117.5 343.5h3v3h-3zM100.5 365.5h3v3h-3zM96.5 379.5h3v3h-3zM162.5 350.5h3v3h-3zM79.5 391.5h3v3h-3zM121.5 377.5h3v3h-3zM110.5 375.5h3v3h-3zM77.5 343.5h3v3h-3zM119.5 380.5h3v3h-3zM135.5 348.5h3v3h-3zM131.5 363.5h3v3h-3zM114.5 384.5h3v3h-3zM90.5 344.5h3v3h-3zM156.5 366.5h3v3h-3zM73.5 351.5h3v3h-3zM124.5 385.5h3v3h-3zM83.5 371.5h3v3h-3zM99.5 390.5h3v3h-3zM128.5 345.5h3v3h-3zM144.5 360.5h3v3h-3zM87.5 381.5h3v3h-3zM103.5 343.5h3v3h-3zM93.5 357.5h3v3h-3zM76.5 369.5h3v3h-3zM118.5 355.5h3v3h-3zM101.5 376.5h3v3h-3zM134.5 368.5h3v3h-3zM97.5 390.5h3v3h-3zM113.5 354.5h3v3h-3zM72.5 373.5h3v3h-3zM125.5 342.5h3v3h-3zM109.5 363.5h3v3h-3zM150.5 345.5h3v3h-3zM68.5 381.5h3v3h-3zM63.5 342.5h3v3h-3zM129.5 364.5h3v3h-3zM88.5 350.5h3v3h-3zM105.5 369.5h3v3h-3zM78.5 389.5h3v3h-3zM144.5 338.5h3v3h-3zM86.5 360.5h3v3h-3zM119.5 375.5h3v3h-3zM103.5 396.5h3v3h-3zM82.5 348.5h3v3h-3zM123.5 384.5h3v3h-3zM107.5 355.5h3v3h-3zM91.5 368.5h3v3h-3zM108.5 382.5h3v3h-3zM67.5 351.5h3v3h-3zM133.5 372.5h3v3h-3zM95.5 394.5h3v3h-3zM112.5 341.5h3v3h-3zM87.5 377.5h3v3h-3zM71.5 359.5h3v3h-3zM126.5 342.5h3v3h-3zM143.5 356.5h3v3h-3zM85.5 378.5h3v3h-3zM102.5 347.5h3v3h-3zM168.5 368.5h3v3h-3zM64.5 354.5h3v3h-3zM81.5 367.5h3v3h-3zM122.5 352.5h3v3h-3zM106.5 374.5h3v3h-3zM92.5 386.5h3v3h-3zM75.5 393.5h3v3h-3zM116.5 362.5h3v3h-3zM100.5 384.5h3v3h-3zM96.5 346.5h3v3h-3zM112.5 360.5h3v3h-3zM120.5 387.5h3v3h-3zM71.5 379.5h3v3h-3zM137.5 350.5h3v3h-3zM94.5 372.5h3v3h-3zM127.5 370.5h3v3h-3zM110.5 392.5h3v3h-3zM85.5 355.5h3v3h-3zM65.5 373.5h3v3h-3zM89.5 356.5h3v3h-3zM106.5 392.5h3v3h-3zM73.5 368.5h3v3h-3zM74.5 345.5h3v3h-3zM140.5 367.5h3v3h-3zM115.5 381.5h3v3h-3zM99.5 352.5h3v3h-3zM95.5 364.5h3v3h-3zM78.5 371.5h3v3h-3zM175.5 361.5h3v3h-3zM76.5 382.5h3v3h-3zM51.5 344.5h3v3h-3zM117.5 366.5h3v3h-3zM68.5 358.5h3v3h-3zM134.5 380.5h3v3h-3zM97.5 351.5h3v3h-3zM130.5 349.5h3v3h-3zM113.5 370.5h3v3h-3zM88.5 385.5h3v3h-3zM154.5 356.5h3v3h-3zM72.5 388.5h3v3h-3zM125.5 374.5h3v3h-3zM109.5 395.5h3v3h-3zM100.5 371.5h3v3h-3zM63.5 361.5h3v3h-3zM146.5 345.5h3v3h-3zM88.5 367.5h3v3h-3zM121.5 360.5h3v3h-3zM104.5 382.5h3v3h-3zM94.5 343.5h3v3h-3zM160.5 365.5h3v3h-3zM78.5 350.5h3v3h-3zM119.5 391.5h3v3h-3zM135.5 355.5h3v3h-3zM98.5 377.5h3v3h-3zM115.5 389.5h3v3h-3zM82.5 360.5h3v3h-3zM123.5 344.5h3v3h-3zM139.5 358.5h3v3h-3zM108.5 348.5h3v3h-3zM83.5 363.5h3v3h-3zM66.5 366.5h3v3h-3zM128.5 352.5h3v3h-3zM112.5 373.5h3v3h-3zM87.5 385.5h3v3h-3zM103.5 349.5h3v3h-3zM60.5 340.5h3v3h-3zM77.5 376.5h3v3h-3zM85.5 345.5h3v3h-3zM101.5 360.5h3v3h-3zM97.5 396.5h3v3h-3zM81.5 379.5h3v3h-3zM122.5 369.5h3v3h-3zM105.5 391.5h3v3h-3zM92.5 355.5h3v3h-3zM108.5 367.5h3v3h-3zM129.5 372.5h3v3h-3zM113.5 394.5h3v3h-3zM154.5 363.5h3v3h-3zM71.5 344.5h3v3h-3zM127.5 380.5h3v3h-3zM86.5 363.5h3v3h-3zM102.5 378.5h3v3h-3zM168.5 349.5h3v3h-3zM69.5 371.5h3v3h-3zM82.5 354.5h3v3h-3zM148.5 375.5h3v3h-3zM123.5 388.5h3v3h-3zM91.5 374.5h3v3h-3zM74.5 357.5h3v3h-3zM116.5 347.5h3v3h-3zM99.5 369.5h3v3h-3zM132.5 362.5h3v3h-3zM95.5 384.5h3v3h-3zM112.5 346.5h3v3h-3zM70.5 366.5h3v3h-3zM126.5 351.5h3v3h-3zM109.5 373.5h3v3h-3zM85.5 392.5h3v3h-3zM151.5 341.5h3v3h-3zM130.5 359.5h3v3h-3zM89.5 342.5h3v3h-3zM105.5 357.5h3v3h-3zM72.5 349.5h3v3h-3zM76.5 383.5h3v3h-3zM142.5 354.5h3v3h-3zM117.5 367.5h3v3h-3zM101.5 389.5h3v3h-3zM97.5 353.5h3v3h-3zM105.5 348.5h3v3h-3zM95.5 362.5h3v3h-3zM119.5 353.5h3v3h-3zM70.5 344.5h3v3h-3zM136.5 365.5h3v3h-3zM99.5 387.5h3v3h-3zM132.5 380.5h3v3h-3zM115.5 351.5h3v3h-3zM90.5 370.5h3v3h-3zM74.5 377.5h3v3h-3zM108.5 359.5h3v3h-3zM141.5 373.5h3v3h-3zM83.5 395.5h3v3h-3zM166.5 357.5h3v3h-3zM67.5 378.5h3v3h-3zM63.5 347.5h3v3h-3zM79.5 361.5h3v3h-3zM120.5 345.5h3v3h-3zM104.5 367.5h3v3h-3zM93.5 381.5h3v3h-3zM159.5 352.5h3v3h-3zM77.5 386.5h3v3h-3zM118.5 372.5h3v3h-3zM114.5 377.5h3v3h-3zM81.5 346.5h3v3h-3zM139.5 343.5h3v3h-3zM92.5 365.5h3v3h-3zM125.5 358.5h3v3h-3zM108.5 380.5h3v3h-3zM83.5 348.5h3v3h-3zM149.5 370.5h3v3h-3zM67.5 355.5h3v3h-3zM88.5 373.5h3v3h-3zM104.5 385.5h3v3h-3zM143.5 361.5h3v3h-3zM85.5 383.5h3v3h-3zM102.5 345.5h3v3h-3zM98.5 359.5h3v3h-3zM65.5 352.5h3v3h-3zM81.5 364.5h3v3h-3zM123.5 350.5h3v3h-3zM139.5 369.5h3v3h-3zM91.5 391.5h3v3h-3zM107.5 355.5h3v3h-3zM115.5 361.5h3v3h-3zM66.5 375.5h3v3h-3zM111.5 358.5h3v3h-3zM87.5 395.5h3v3h-3zM152.5 349.5h3v3h-3zM70.5 385.5h3v3h-3zM60.5 345.5h3v3h-3zM126.5 366.5h3v3h-3zM109.5 388.5h3v3h-3zM84.5 352.5h3v3h-3zM101.5 364.5h3v3h-3zM80.5 391.5h3v3h-3zM146.5 340.5h3v3h-3zM89.5 362.5h3v3h-3zM122.5 376.5h3v3h-3zM76.5 343.5h3v3h-3zM117.5 379.5h3v3h-3zM100.5 350.5h3v3h-3zM133.5 348.5h3v3h-3zM96.5 370.5h3v3h-3zM113.5 384.5h3v3h-3zM80.5 377.5h3v3h-3zM72.5 353.5h3v3h-3zM138.5 375.5h3v3h-3zM127.5 387.5h3v3h-3zM86.5 372.5h3v3h-3zM70.5 363.5h3v3h-3zM131.5 344.5h3v3h-3zM90.5 381.5h3v3h-3zM107.5 342.5h3v3h-3zM173.5 364.5h3v3h-3zM74.5 385.5h3v3h-3zM75.5 368.5h3v3h-3zM116.5 354.5h3v3h-3zM99.5 376.5h3v3h-3zM95.5 389.5h3v3h-3zM79.5 396.5h3v3h-3zM120.5 357.5h3v3h-3zM104.5 379.5h3v3h-3zM93.5 347.5h3v3h-3zM110.5 362.5h3v3h-3zM68.5 382.5h3v3h-3zM134.5 353.5h3v3h-3zM97.5 375.5h3v3h-3zM130.5 365.5h3v3h-3zM114.5 387.5h3v3h-3zM89.5 350.5h3v3h-3zM155.5 372.5h3v3h-3zM84.5 358.5h3v3h-3zM100.5 395.5h3v3h-3zM67.5 363.5h3v3h-3zM79.5 346.5h3v3h-3zM145.5 368.5h3v3h-3zM121.5 383.5h3v3h-3zM104.5 354.5h3v3h-3zM94.5 367.5h3v3h-3zM77.5 374.5h3v3h-3zM102.5 357.5h3v3h-3zM98.5 393.5h3v3h-3zM123.5 368.5h3v3h-3zM73.5 361.5h3v3h-3zM91.5 353.5h3v3h-3zM124.5 344.5h3v3h-3zM107.5 365.5h3v3h-3zM82.5 380.5h3v3h-3zM148.5 351.5h3v3h-3zM128.5 378.5h3v3h-3zM103.5 374.5h3v3h-3zM70.5 342.5h3v3h-3zM76.5 393.5h3v3h-3zM142.5 347.5h3v3h-3zM118.5 361.5h3v3h-3zM101.5 383.5h3v3h-3zM97.5 345.5h3v3h-3zM163.5 367.5h3v3h-3zM80.5 353.5h3v3h-3zM122.5 386.5h3v3h-3zM92.5 372.5h3v3h-3zM109.5 391.5h3v3h-3zM76.5 362.5h3v3h-3zM117.5 346.5h3v3h-3zM134.5 360.5h3v3h-3zM96.5 382.5h3v3h-3zM113.5 344.5h3v3h-3zM88.5 358.5h3v3h-3zM72.5 370.5h3v3h-3zM127.5 356.5h3v3h-3zM111.5 377.5h3v3h-3zM86.5 388.5h3v3h-3zM103.5 352.5h3v3h-3zM82.5 371.5h3v3h-3zM90.5 347.5h3v3h-3zM107.5 361.5h3v3h-3zM157.5 345.5h3v3h-3zM75.5 381.5h3v3h-3zM116.5 365.5h3v3h-3zM132.5 379.5h3v3h-3zM95.5 350.5h3v3h-3zM112.5 369.5h3v3h-3zM71.5 389.5h3v3h-3zM137.5 338.5h3v3h-3zM126.5 375.5h3v3h-3zM110.5 396.5h3v3h-3zM151.5 358.5h3v3h-3zM69.5 348.5h3v3h-3zM64.5 363.5h3v3h-3zM130.5 384.5h3v3h-3zM114.5 355.5h3v3h-3zM89.5 366.5h3v3h-3zM106.5 380.5h3v3h-3zM75.5 349.5h3v3h-3zM141.5 371.5h3v3h-3zM83.5 392.5h3v3h-3zM116.5 390.5h3v3h-3zM96.5 376.5h3v3h-3zM79.5 359.5h3v3h-3zM120.5 343.5h3v3h-3zM104.5 364.5h3v3h-3zM137.5 357.5h3v3h-3zM94.5 379.5h3v3h-3zM110.5 347.5h3v3h-3zM77.5 391.5h3v3h-3zM69.5 368.5h3v3h-3zM131.5 354.5h3v3h-3zM114.5 375.5h3v3h-3zM89.5 387.5h3v3h-3zM57.5 341.5h3v3h-3zM123.5 363.5h3v3h-3zM82.5 345.5h3v3h-3zM99.5 359.5h3v3h-3zM66.5 352.5h3v3h-3zM78.5 378.5h3v3h-3zM144.5 349.5h3v3h-3zM86.5 371.5h3v3h-3zM119.5 369.5h3v3h-3zM103.5 391.5h3v3h-3zM93.5 354.5h3v3h-3zM117.5 396.5h3v3h-3zM101.5 343.5h3v3h-3zM97.5 358.5h3v3h-3zM113.5 394.5h3v3h-3zM72.5 346.5h3v3h-3zM138.5 368.5h3v3h-3zM92.5 390.5h3v3h-3zM125.5 382.5h3v3h-3zM109.5 353.5h3v3h-3zM84.5 365.5h3v3h-3zM67.5 373.5h3v3h-3zM129.5 341.5h3v3h-3zM170.5 359.5h3v3h-3zM71.5 381.5h3v3h-3zM61.5 342.5h3v3h-3zM78.5 357.5h3v3h-3zM119.5 347.5h3v3h-3zM102.5 369.5h3v3h-3zM98.5 383.5h3v3h-3zM164.5 354.5h3v3h-3zM65.5 376.5h3v3h-3zM82.5 389.5h3v3h-3zM123.5 374.5h3v3h-3zM107.5 372.5h3v3h-3zM149.5 340.5h3v3h-3zM116.5 384.5h3v3h-3zM132.5 346.5h3v3h-3zM95.5 368.5h3v3h-3zM128.5 360.5h3v3h-3zM112.5 382.5h3v3h-3zM87.5 343.5h3v3h-3zM153.5 365.5h3v3h-3zM70.5 351.5h3v3h-3zM143.5 355.5h3v3h-3zM85.5 377.5h3v3h-3zM101.5 388.5h3v3h-3zM68.5 359.5h3v3h-3zM147.5 356.5h3v3h-3zM122.5 393.5h3v3h-3zM105.5 347.5h3v3h-3zM92.5 361.5h3v3h-3zM75.5 367.5h3v3h-3zM117.5 352.5h3v3h-3zM96.5 386.5h3v3h-3zM113.5 350.5h3v3h-3zM178.5 277.5h3v3h-3zM183.5 290.5h3v3h-3zM172.5 271.5h3v3h-3zM176.5 282.5h3v3h-3zM182.5 275.5h3v3h-3zM173.5 279.5h3v3h-3zM180.5 283.5h3v3h-3zM179.5 288.5h3v3h-3zM177.5 273.5h3v3h-3zM180.5 286.5h3v3h-3zM174.5 273.5h3v3h-3zM178.5 278.5h3v3h-3zM173.5 281.5h3v3h-3zM176.5 289.5h3v3h-3zM182.5 284.5h3v3h-3zM203.5 267.5h3v3h-3zM208.5 270.5h3v3h-3zM204.5 265.5h3v3h-3zM198.5 273.5h3v3h-3zM211.5 271.5h3v3h-3zM196.5 267.5h3v3h-3zM200.5 263.5h3v3h-3zM216.5 266.5h3v3h-3zM199.5 270.5h3v3h-3zM215.5 265.5h3v3h-3zM194.5 268.5h3v3h-3zM209.5 268.5h3v3h-3zM204.5 272.5h3v3h-3zM214.5 264.5h3v3h-3zM193.5 267.5h3v3h-3zM206.5 274.5h3v3h-3zM217.5 270.5h3v3h-3zM191.5 274.5h3v3h-3zM207.5 269.5h3v3h-3zM211.5 265.5h3v3h-3zM197.5 271.5h3v3h-3zM201.5 268.5h3v3h-3zM215.5 271.5h3v3h-3zM205.5 267.5h3v3h-3zM173.5 326.5h3v3h-3zM175.5 326.5h3v3h-3zM176.5 326.5h3v3h-3zM182.5 322.5h3v3h-3zM186.5 325.5h3v3h-3zM192.5 322.5h3v3h-3zM183.5 339.5h3v3h-3zM183.5 345.5h3v3h-3zM177.5 351.5h3v3h-3zM181.5 364.5h3v3h-3zM193.5 365.5h3v3h-3zM179.5 373.5h3v3h-3zM188.5 373.5h3v3h-3zM196.5 301.5h3v3h-3zM207.5 312.5h3v3h-3zM201.5 284.5h3v3h-3zM203.5 284.5h3v3h-3zM217.5 280.5h3v3h-3zM190.5 284.5h3v3h-3zM178.5 360.5h3v3h-3zM184.5 357.5h3v3h-3zM175.5 368.5h3v3h-3zM171.5 377.5h3v3h-3zM168.5 381.5h3v3h-3zM179.5 353.5h3v3h-3zM175.5 344.5h3v3h-3zM171.5 337.5h3v3h-3zM166.5 330.5h3v3h-3zM161.5 333.5h3v3h-3z" fill="none" stroke="#4f7b7b" stroke-width="0.5"/><path d="M411.5 348.5h3v3h-3zM419.5 382.5h3v3h-3zM356.5 351.5h3v3h-3zM417.5 361.5h3v3h-3zM430.5 350.5h3v3h-3zM337.5 346.5h3v3h-3zM421.5 343.5h3v3h-3zM416.5 377.5h3v3h-3zM425.5 357.5h3v3h-3zM391.5 345.5h3v3h-3zM427.5 368.5h3v3h-3zM435.5 347.5h3v3h-3zM414.5 365.5h3v3h-3zM423.5 336.5h3v3h-3zM411.5 393.5h3v3h-3zM360.5 350.5h3v3h-3zM326.5 349.5h3v3h-3zM356.5 344.5h3v3h-3zM409.5 352.5h3v3h-3zM375.5 348.5h3v3h-3zM418.5 331.5h3v3h-3zM431.5 342.5h3v3h-3zM320.5 351.5h3v3h-3zM396.5 344.5h3v3h-3zM417.5 367.5h3v3h-3zM342.5 346.5h3v3h-3zM427.5 338.5h3v3h-3zM402.5 360.5h3v3h-3zM313.5 348.5h3v3h-3zM437.5 350.5h3v3h-3zM403.5 347.5h3v3h-3zM424.5 369.5h3v3h-3zM409.5 341.5h3v3h-3zM324.5 349.5h3v3h-3zM350.5 348.5h3v3h-3zM412.5 386.5h3v3h-3zM378.5 351.5h3v3h-3zM421.5 365.5h3v3h-3zM370.5 345.5h3v3h-3zM434.5 354.5h3v3h-3zM408.5 377.5h3v3h-3zM410.5 373.5h3v3h-3zM419.5 344.5h3v3h-3zM414.5 379.5h3v3h-3zM389.5 349.5h3v3h-3zM416.5 361.5h3v3h-3zM365.5 348.5h3v3h-3zM424.5 339.5h3v3h-3zM325.5 342.5h3v3h-3zM401.5 351.5h3v3h-3zM312.5 338.5h3v3h-3zM413.5 353.5h3v3h-3zM434.5 346.5h3v3h-3zM426.5 363.5h3v3h-3zM409.5 369.5h3v3h-3zM334.5 345.5h3v3h-3zM411.5 376.5h3v3h-3zM343.5 347.5h3v3h-3zM420.5 355.5h3v3h-3zM390.5 350.5h3v3h-3zM417.5 337.5h3v3h-3zM413.5 394.5h3v3h-3zM362.5 351.5h3v3h-3zM422.5 374.5h3v3h-3zM429.5 363.5h3v3h-3zM353.5 343.5h3v3h-3zM323.5 344.5h3v3h-3zM410.5 387.5h3v3h-3zM376.5 353.5h3v3h-3zM427.5 342.5h3v3h-3zM431.5 358.5h3v3h-3zM397.5 346.5h3v3h-3zM406.5 381.5h3v3h-3zM412.5 369.5h3v3h-3zM420.5 348.5h3v3h-3zM407.5 359.5h3v3h-3zM341.5 351.5h3v3h-3zM414.5 361.5h3v3h-3zM405.5 349.5h3v3h-3zM430.5 332.5h3v3h-3zM421.5 372.5h3v3h-3zM404.5 355.5h3v3h-3zM417.5 343.5h3v3h-3zM377.5 345.5h3v3h-3zM317.5 342.5h3v3h-3zM415.5 385.5h3v3h-3zM423.5 364.5h3v3h-3zM372.5 344.5h3v3h-3zM428.5 353.5h3v3h-3zM335.5 349.5h3v3h-3zM409.5 380.5h3v3h-3zM418.5 352.5h3v3h-3zM384.5 348.5h3v3h-3zM361.5 347.5h3v3h-3zM421.5 339.5h3v3h-3zM366.5 353.5h3v3h-3zM408.5 350.5h3v3h-3zM427.5 367.5h3v3h-3zM419.5 384.5h3v3h-3zM351.5 347.5h3v3h-3zM415.5 355.5h3v3h-3zM429.5 345.5h3v3h-3zM399.5 347.5h3v3h-3zM410.5 370.5h3v3h-3zM333.5 350.5h3v3h-3zM346.5 349.5h3v3h-3zM431.5 340.5h3v3h-3zM423.5 358.5h3v3h-3zM405.5 363.5h3v3h-3zM311.5 343.5h3v3h-3zM387.5 352.5h3v3h-3zM360.5 350.5h3v3h-3zM419.5 372.5h3v3h-3zM415.5 344.5h3v3h-3zM317.5 346.5h3v3h-3zM415.5 389.5h3v3h-3zM424.5 360.5h3v3h-3zM373.5 348.5h3v3h-3zM426.5 357.5h3v3h-3zM392.5 345.5h3v3h-3zM413.5 368.5h3v3h-3zM396.5 351.5h3v3h-3zM422.5 347.5h3v3h-3zM412.5 382.5h3v3h-3zM404.5 359.5h3v3h-3zM348.5 350.5h3v3h-3zM410.5 363.5h3v3h-3zM359.5 343.5h3v3h-3zM418.5 335.5h3v3h-3zM329.5 345.5h3v3h-3zM406.5 354.5h3v3h-3zM412.5 342.5h3v3h-3zM420.5 376.5h3v3h-3zM416.5 356.5h3v3h-3zM382.5 344.5h3v3h-3zM426.5 349.5h3v3h-3zM367.5 346.5h3v3h-3zM414.5 337.5h3v3h-3zM371.5 352.5h3v3h-3zM337.5 348.5h3v3h-3zM349.5 342.5h3v3h-3zM425.5 351.5h3v3h-3zM385.5 352.5h3v3h-3zM423.5 340.5h3v3h-3zM406.5 346.5h3v3h-3zM420.5 369.5h3v3h-3zM356.5 345.5h3v3h-3zM409.5 354.5h3v3h-3zM316.5 347.5h3v3h-3zM413.5 390.5h3v3h-3zM429.5 350.5h3v3h-3zM395.5 349.5h3v3h-3zM417.5 372.5h3v3h-3zM425.5 344.5h3v3h-3zM427.5 339.5h3v3h-3zM312.5 342.5h3v3h-3zM412.5 364.5h3v3h-3zM361.5 344.5h3v3h-3zM408.5 358.5h3v3h-3zM410.5 346.5h3v3h-3zM418.5 380.5h3v3h-3zM380.5 348.5h3v3h-3zM413.5 388.5h3v3h-3zM421.5 359.5h3v3h-3zM319.5 351.5h3v3h-3zM370.5 347.5h3v3h-3zM417.5 338.5h3v3h-3zM409.5 378.5h3v3h-3zM394.5 350.5h3v3h-3zM419.5 349.5h3v3h-3zM415.5 383.5h3v3h-3zM423.5 354.5h3v3h-3zM343.5 352.5h3v3h-3zM415.5 363.5h3v3h-3zM424.5 334.5h3v3h-3zM324.5 345.5h3v3h-3zM430.5 359.5h3v3h-3zM354.5 349.5h3v3h-3zM412.5 358.5h3v3h-3zM382.5 352.5h3v3h-3zM433.5 348.5h3v3h-3zM408.5 371.5h3v3h-3zM393.5 342.5h3v3h-3zM368.5 351.5h3v3h-3zM334.5 347.5h3v3h-3zM414.5 373.5h3v3h-3zM338.5 353.5h3v3h-3zM429.5 333.5h3v3h-3zM420.5 350.5h3v3h-3zM403.5 366.5h3v3h-3zM314.5 346.5h3v3h-3zM435.5 356.5h3v3h-3zM401.5 345.5h3v3h-3zM422.5 368.5h3v3h-3zM413.5 347.5h3v3h-3zM353.5 344.5h3v3h-3zM357.5 349.5h3v3h-3zM323.5 348.5h3v3h-3zM411.5 391.5h3v3h-3zM419.5 363.5h3v3h-3zM368.5 343.5h3v3h-3zM432.5 351.5h3v3h-3zM394.5 354.5h3v3h-3zM420.5 342.5h3v3h-3zM416.5 377.5h3v3h-3zM390.5 344.5h3v3h-3zM407.5 362.5h3v3h-3zM426.5 367.5h3v3h-3zM414.5 366.5h3v3h-3zM363.5 346.5h3v3h-3zM422.5 338.5h3v3h-3zM327.5 348.5h3v3h-3zM404.5 356.5h3v3h-3zM417.5 345.5h3v3h-3zM410.5 351.5h3v3h-3zM376.5 347.5h3v3h-3zM432.5 341.5h3v3h-3zM423.5 358.5h3v3h-3zM321.5 350.5h3v3h-3zM406.5 375.5h3v3h-3zM412.5 340.5h3v3h-3zM335.5 343.5h3v3h-3zM410.5 382.5h3v3h-3zM342.5 345.5h3v3h-3zM418.5 353.5h3v3h-3zM404.5 349.5h3v3h-3zM426.5 371.5h3v3h-3zM428.5 360.5h3v3h-3zM326.5 351.5h3v3h-3zM351.5 348.5h3v3h-3zM322.5 343.5h3v3h-3zM411.5 385.5h3v3h-3zM377.5 351.5h3v3h-3zM428.5 347.5h3v3h-3zM432.5 353.5h3v3h-3zM407.5 376.5h3v3h-3zM409.5 375.5h3v3h-3zM417.5 346.5h3v3h-3zM345.5 344.5h3v3h-3zM405.5 365.5h3v3h-3zM416.5 359.5h3v3h-3zM365.5 347.5h3v3h-3zM418.5 367.5h3v3h-3zM401.5 350.5h3v3h-3zM414.5 349.5h3v3h-3zM312.5 340.5h3v3h-3zM377.5 343.5h3v3h-3zM352.5 352.5h3v3h-3zM318.5 348.5h3v3h-3zM424.5 362.5h3v3h-3zM426.5 351.5h3v3h-3zM333.5 344.5h3v3h-3zM397.5 352.5h3v3h-3zM413.5 375.5h3v3h-3zM421.5 357.5h3v3h-3zM387.5 346.5h3v3h-3zM410.5 366.5h3v3h-3zM419.5 337.5h3v3h-3zM415.5 394.5h3v3h-3zM364.5 351.5h3v3h-3zM330.5 347.5h3v3h-3zM406.5 356.5h3v3h-3zM428.5 362.5h3v3h-3zM420.5 379.5h3v3h-3zM352.5 342.5h3v3h-3zM415.5 350.5h3v3h-3zM381.5 349.5h3v3h-3zM424.5 332.5h3v3h-3zM426.5 344.5h3v3h-3zM413.5 339.5h3v3h-3zM396.5 345.5h3v3h-3zM412.5 368.5h3v3h-3zM349.5 344.5h3v3h-3zM408.5 359.5h3v3h-3zM406.5 347.5h3v3h-3zM420.5 370.5h3v3h-3zM416.5 342.5h3v3h-3zM331.5 350.5h3v3h-3zM350.5 352.5h3v3h-3zM316.5 341.5h3v3h-3zM414.5 384.5h3v3h-3zM422.5 366.5h3v3h-3zM371.5 346.5h3v3h-3zM430.5 354.5h3v3h-3zM417.5 374.5h3v3h-3zM426.5 345.5h3v3h-3zM411.5 380.5h3v3h-3zM385.5 347.5h3v3h-3zM313.5 344.5h3v3h-3zM411.5 359.5h3v3h-3zM309.5 350.5h3v3h-3zM360.5 349.5h3v3h-3zM420.5 341.5h3v3h-3zM330.5 343.5h3v3h-3zM407.5 352.5h3v3h-3zM417.5 382.5h3v3h-3zM413.5 354.5h3v3h-3zM429.5 344.5h3v3h-3zM404.5 367.5h3v3h-3zM340.5 346.5h3v3h-3zM414.5 377.5h3v3h-3zM346.5 348.5h3v3h-3zM423.5 356.5h3v3h-3zM386.5 350.5h3v3h-3zM424.5 335.5h3v3h-3zM410.5 392.5h3v3h-3zM358.5 350.5h3v3h-3zM418.5 374.5h3v3h-3zM431.5 363.5h3v3h-3zM354.5 343.5h3v3h-3zM413.5 351.5h3v3h-3zM319.5 345.5h3v3h-3zM417.5 388.5h3v3h-3zM428.5 356.5h3v3h-3zM394.5 344.5h3v3h-3zM415.5 367.5h3v3h-3zM423.5 349.5h3v3h-3zM428.5 338.5h3v3h-3zM403.5 361.5h3v3h-3zM348.5 352.5h3v3h-3zM314.5 348.5h3v3h-3zM409.5 362.5h3v3h-3zM358.5 342.5h3v3h-3zM435.5 351.5h3v3h-3zM401.5 347.5h3v3h-3zM422.5 370.5h3v3h-3zM405.5 353.5h3v3h-3zM412.5 341.5h3v3h-3zM327.5 350.5h3v3h-3zM421.5 376.5h3v3h-3zM383.5 346.5h3v3h-3zM410.5 386.5h3v3h-3zM419.5 365.5h3v3h-3zM368.5 345.5h3v3h-3zM415.5 336.5h3v3h-3zM338.5 347.5h3v3h-3zM420.5 344.5h3v3h-3zM416.5 378.5h3v3h-3zM425.5 350.5h3v3h-3zM391.5 349.5h3v3h-3zM363.5 348.5h3v3h-3zM423.5 340.5h3v3h-3zM413.5 397.5h3v3h-3zM404.5 351.5h3v3h-3zM358.5 345.5h3v3h-3zM409.5 388.5h3v3h-3zM411.5 353.5h3v3h-3zM432.5 347.5h3v3h-3zM407.5 369.5h3v3h-3zM394.5 348.5h3v3h-3zM335.5 345.5h3v3h-3zM415.5 371.5h3v3h-3zM339.5 351.5h3v3h-3zM341.5 347.5h3v3h-3zM426.5 339.5h3v3h-3zM417.5 356.5h3v3h-3zM311.5 341.5h3v3h-3zM388.5 350.5h3v3h-3zM337.5 357.5h3v3h-3zM440.5 339.5h3v3h-3zM439.5 351.5h3v3h-3zM444.5 351.5h3v3h-3zM448.5 351.5h3v3h-3zM454.5 351.5h3v3h-3zM440.5 365.5h3v3h-3zM446.5 365.5h3v3h-3zM452.5 365.5h3v3h-3zM465.5 365.5h3v3h-3zM451.5 372.5h3v3h-3zM454.5 372.5h3v3h-3zM464.5 373.5h3v3h-3zM436.5 373.5h3v3h-3zM434.5 379.5h3v3h-3zM440.5 357.5h3v3h-3zM443.5 358.5h3v3h-3zM440.5 322.5h3v3h-3zM446.5 323.5h3v3h-3zM452.5 323.5h3v3h-3zM463.5 311.5h3v3h-3zM455.5 300.5h3v3h-3zM436.5 362.5h3v3h-3zM441.5 370.5h3v3h-3zM433.5 354.5h3v3h-3zM435.5 368.5h3v3h-3zM430.5 384.5h3v3h-3zM426.5 389.5h3v3h-3zM425.5 276.5h3v3h-3zM423.5 281.5h3v3h-3zM423.5 283.5h3v3h-3zM423.5 286.5h3v3h-3zM428.5 280.5h3v3h-3zM428.5 283.5h3v3h-3zM428.5 286.5h3v3h-3zM428.5 289.5h3v3h-3zM433.5 278.5h3v3h-3zM433.5 279.5h3v3h-3zM436.5 273.5h3v3h-3zM444.5 272.5h3v3h-3zM448.5 273.5h3v3h-3zM445.5 276.5h3v3h-3zM445.5 279.5h3v3h-3zM453.5 274.5h3v3h-3zM455.5 280.5h3v3h-3zM452.5 284.5h3v3h-3zM454.5 284.5h3v3h-3zM459.5 286.5h3v3h-3zM457.5 267.5h3v3h-3zM457.5 269.5h3v3h-3zM458.5 271.5h3v3h-3zM460.5 271.5h3v3h-3zM463.5 271.5h3v3h-3zM455.5 300.5h3v3h-3zM475.5 265.5h3v3h-3zM477.5 269.5h3v3h-3zM470.5 267.5h3v3h-3zM466.5 270.5h3v3h-3zM474.5 266.5h3v3h-3zM472.5 264.5h3v3h-3zM470.5 265.5h3v3h-3zM473.5 268.5h3v3h-3zM467.5 267.5h3v3h-3zM469.5 270.5h3v3h-3zM475.5 267.5h3v3h-3zM468.5 268.5h3v3h-3z" fill="none" stroke="#4f7b7b" stroke-width="0.5"/><path d="M625.5 363.5h3v3h-3zM649.5 360.5h3v3h-3zM685.5 368.5h3v3h-3zM637.5 382.5h3v3h-3zM645.5 350.5h3v3h-3zM661.5 378.5h3v3h-3zM596.5 346.5h3v3h-3zM683.5 352.5h3v3h-3zM635.5 389.5h3v3h-3zM667.5 365.5h3v3h-3zM623.5 357.5h3v3h-3zM608.5 361.5h3v3h-3zM631.5 369.5h3v3h-3zM658.5 374.5h3v3h-3zM642.5 390.5h3v3h-3zM674.5 367.5h3v3h-3zM610.5 343.5h3v3h-3zM622.5 387.5h3v3h-3zM638.5 355.5h3v3h-3zM646.5 384.5h3v3h-3zM692.5 392.5h3v3h-3zM644.5 342.5h3v3h-3zM652.5 374.5h3v3h-3zM680.5 376.5h3v3h-3zM616.5 352.5h3v3h-3zM632.5 344.5h3v3h-3zM664.5 389.5h3v3h-3zM626.5 381.5h3v3h-3zM658.5 357.5h3v3h-3zM682.5 362.5h3v3h-3zM634.5 393.5h3v3h-3zM622.5 359.5h3v3h-3zM670.5 391.5h3v3h-3zM646.5 364.5h3v3h-3zM694.5 380.5h3v3h-3zM628.5 348.5h3v3h-3zM644.5 379.5h3v3h-3zM676.5 355.5h3v3h-3zM620.5 371.5h3v3h-3zM652.5 347.5h3v3h-3zM604.5 352.5h3v3h-3zM640.5 365.5h3v3h-3zM664.5 362.5h3v3h-3zM611.5 359.5h3v3h-3zM619.5 375.5h3v3h-3zM635.5 367.5h3v3h-3zM667.5 343.5h3v3h-3zM655.5 380.5h3v3h-3zM607.5 349.5h3v3h-3zM679.5 385.5h3v3h-3zM629.5 382.5h3v3h-3zM661.5 358.5h3v3h-3zM645.5 350.5h3v3h-3zM625.5 372.5h3v3h-3zM673.5 379.5h3v3h-3zM649.5 371.5h3v3h-3zM641.5 390.5h3v3h-3zM617.5 358.5h3v3h-3zM633.5 350.5h3v3h-3zM665.5 386.5h3v3h-3zM653.5 354.5h3v3h-3zM629.5 391.5h3v3h-3zM661.5 368.5h3v3h-3zM659.5 341.5h3v3h-3zM683.5 349.5h3v3h-3zM635.5 353.5h3v3h-3zM623.5 346.5h3v3h-3zM655.5 383.5h3v3h-3zM695.5 364.5h3v3h-3zM642.5 363.5h3v3h-3zM686.5 377.5h3v3h-3zM638.5 345.5h3v3h-3zM646.5 358.5h3v3h-3zM630.5 374.5h3v3h-3zM662.5 350.5h3v3h-3zM620.5 360.5h3v3h-3zM668.5 392.5h3v3h-3zM656.5 365.5h3v3h-3zM592.5 341.5h3v3h-3zM680.5 373.5h3v3h-3zM632.5 378.5h3v3h-3zM626.5 370.5h3v3h-3zM658.5 346.5h3v3h-3zM674.5 375.5h3v3h-3zM610.5 351.5h3v3h-3zM650.5 367.5h3v3h-3zM698.5 388.5h3v3h-3zM638.5 387.5h3v3h-3zM670.5 363.5h3v3h-3zM644.5 368.5h3v3h-3zM652.5 381.5h3v3h-3zM668.5 373.5h3v3h-3zM604.5 350.5h3v3h-3zM680.5 346.5h3v3h-3zM632.5 351.5h3v3h-3zM627.5 343.5h3v3h-3zM659.5 388.5h3v3h-3zM655.5 369.5h3v3h-3zM639.5 358.5h3v3h-3zM647.5 390.5h3v3h-3zM629.5 356.5h3v3h-3zM645.5 348.5h3v3h-3zM677.5 387.5h3v3h-3zM653.5 355.5h3v3h-3zM689.5 361.5h3v3h-3zM641.5 392.5h3v3h-3zM617.5 366.5h3v3h-3zM649.5 342.5h3v3h-3zM682.5 370.5h3v3h-3zM618.5 346.5h3v3h-3zM634.5 376.5h3v3h-3zM666.5 352.5h3v3h-3zM622.5 368.5h3v3h-3zM654.5 344.5h3v3h-3zM606.5 357.5h3v3h-3zM630.5 361.5h3v3h-3zM660.5 393.5h3v3h-3zM644.5 383.5h3v3h-3zM676.5 359.5h3v3h-3zM700.5 367.5h3v3h-3zM624.5 380.5h3v3h-3zM640.5 372.5h3v3h-3zM672.5 348.5h3v3h-3zM648.5 379.5h3v3h-3zM600.5 348.5h3v3h-3zM691.5 385.5h3v3h-3zM651.5 366.5h3v3h-3zM615.5 371.5h3v3h-3zM663.5 376.5h3v3h-3zM597.5 344.5h3v3h-3zM685.5 357.5h3v3h-3zM637.5 386.5h3v3h-3zM625.5 354.5h3v3h-3zM641.5 346.5h3v3h-3zM673.5 383.5h3v3h-3zM609.5 359.5h3v3h-3zM697.5 391.5h3v3h-3zM690.5 364.5h3v3h-3zM674.5 372.5h3v3h-3zM618.5 363.5h3v3h-3zM638.5 352.5h3v3h-3zM614.5 344.5h3v3h-3zM646.5 389.5h3v3h-3zM630.5 381.5h3v3h-3zM662.5 358.5h3v3h-3zM612.5 354.5h3v3h-3zM636.5 359.5h3v3h-3zM656.5 391.5h3v3h-3zM680.5 381.5h3v3h-3zM632.5 349.5h3v3h-3zM627.5 377.5h3v3h-3zM659.5 353.5h3v3h-3zM687.5 388.5h3v3h-3zM623.5 364.5h3v3h-3zM647.5 363.5h3v3h-3zM693.5 371.5h3v3h-3zM645.5 376.5h3v3h-3zM621.5 368.5h3v3h-3zM653.5 345.5h3v3h-3zM669.5 382.5h3v3h-3zM605.5 358.5h3v3h-3zM593.5 350.5h3v3h-3zM633.5 383.5h3v3h-3zM665.5 360.5h3v3h-3zM625.5 352.5h3v3h-3zM633.5 373.5h3v3h-3zM653.5 377.5h3v3h-3zM669.5 369.5h3v3h-3zM605.5 345.5h3v3h-3zM627.5 388.5h3v3h-3zM643.5 356.5h3v3h-3zM651.5 387.5h3v3h-3zM647.5 369.5h3v3h-3zM631.5 366.5h3v3h-3zM682.5 378.5h3v3h-3zM618.5 355.5h3v3h-3zM634.5 347.5h3v3h-3zM666.5 384.5h3v3h-3zM622.5 376.5h3v3h-3zM654.5 352.5h3v3h-3zM678.5 365.5h3v3h-3zM628.5 362.5h3v3h-3zM660.5 338.5h3v3h-3zM676.5 393.5h3v3h-3zM612.5 370.5h3v3h-3zM652.5 359.5h3v3h-3zM700.5 375.5h3v3h-3zM624.5 343.5h3v3h-3zM640.5 380.5h3v3h-3zM672.5 356.5h3v3h-3zM648.5 348.5h3v3h-3zM594.5 347.5h3v3h-3zM642.5 360.5h3v3h-3zM650.5 392.5h3v3h-3zM702.5 373.5h3v3h-3zM630.5 370.5h3v3h-3zM662.5 346.5h3v3h-3zM660.5 375.5h3v3h-3zM596.5 351.5h3v3h-3zM612.5 343.5h3v3h-3zM684.5 388.5h3v3h-3zM624.5 385.5h3v3h-3zM656.5 361.5h3v3h-3zM640.5 353.5h3v3h-3zM627.5 366.5h3v3h-3zM675.5 380.5h3v3h-3zM651.5 372.5h3v3h-3zM587.5 348.5h3v3h-3zM687.5 355.5h3v3h-3zM639.5 384.5h3v3h-3zM615.5 353.5h3v3h-3zM663.5 390.5h3v3h-3zM685.5 362.5h3v3h-3zM669.5 370.5h3v3h-3zM697.5 381.5h3v3h-3zM633.5 357.5h3v3h-3zM625.5 349.5h3v3h-3zM657.5 385.5h3v3h-3zM641.5 377.5h3v3h-3zM697.5 359.5h3v3h-3zM637.5 364.5h3v3h-3zM669.5 340.5h3v3h-3zM691.5 379.5h3v3h-3zM643.5 348.5h3v3h-3zM619.5 377.5h3v3h-3zM651.5 353.5h3v3h-3zM635.5 369.5h3v3h-3zM667.5 345.5h3v3h-3zM655.5 382.5h3v3h-3zM607.5 350.5h3v3h-3zM615.5 363.5h3v3h-3zM658.5 360.5h3v3h-3zM682.5 368.5h3v3h-3zM634.5 381.5h3v3h-3zM622.5 373.5h3v3h-3zM654.5 349.5h3v3h-3zM606.5 354.5h3v3h-3zM694.5 383.5h3v3h-3zM644.5 388.5h3v3h-3zM676.5 364.5h3v3h-3zM620.5 356.5h3v3h-3zM640.5 371.5h3v3h-3zM648.5 376.5h3v3h-3zM632.5 392.5h3v3h-3zM664.5 368.5h3v3h-3zM600.5 344.5h3v3h-3zM634.5 354.5h3v3h-3zM622.5 346.5h3v3h-3zM654.5 383.5h3v3h-3zM678.5 391.5h3v3h-3zM660.5 373.5h3v3h-3zM624.5 351.5h3v3h-3zM672.5 388.5h3v3h-3zM648.5 356.5h3v3h-3zM691.5 363.5h3v3h-3zM643.5 395.5h3v3h-3zM619.5 361.5h3v3h-3zM679.5 374.5h3v3h-3zM615.5 350.5h3v3h-3zM631.5 378.5h3v3h-3zM663.5 354.5h3v3h-3zM629.5 370.5h3v3h-3zM661.5 347.5h3v3h-3zM613.5 352.5h3v3h-3zM637.5 365.5h3v3h-3zM641.5 385.5h3v3h-3zM673.5 362.5h3v3h-3zM697.5 369.5h3v3h-3zM625.5 375.5h3v3h-3zM641.5 367.5h3v3h-3zM673.5 343.5h3v3h-3zM649.5 380.5h3v3h-3zM601.5 348.5h3v3h-3zM685.5 387.5h3v3h-3zM645.5 361.5h3v3h-3zM619.5 374.5h3v3h-3zM667.5 379.5h3v3h-3zM655.5 371.5h3v3h-3zM591.5 347.5h3v3h-3zM679.5 352.5h3v3h-3zM631.5 389.5h3v3h-3zM626.5 357.5h3v3h-3zM642.5 349.5h3v3h-3zM674.5 386.5h3v3h-3zM610.5 362.5h3v3h-3zM638.5 391.5h3v3h-3zM670.5 367.5h3v3h-3zM614.5 364.5h3v3h-3zM644.5 355.5h3v3h-3zM620.5 347.5h3v3h-3zM652.5 384.5h3v3h-3zM668.5 352.5h3v3h-3zM704.5 366.5h3v3h-3zM608.5 358.5h3v3h-3zM632.5 362.5h3v3h-3zM664.5 338.5h3v3h-3zM682.5 375.5h3v3h-3zM634.5 344.5h3v3h-3zM622.5 381.5h3v3h-3zM654.5 357.5h3v3h-3zM638.5 373.5h3v3h-3zM670.5 349.5h3v3h-3zM628.5 359.5h3v3h-3zM676.5 390.5h3v3h-3zM652.5 364.5h3v3h-3zM688.5 372.5h3v3h-3zM640.5 379.5h3v3h-3zM616.5 371.5h3v3h-3zM648.5 347.5h3v3h-3zM664.5 376.5h3v3h-3zM600.5 352.5h3v3h-3zM595.5 345.5h3v3h-3zM635.5 386.5h3v3h-3zM667.5 362.5h3v3h-3zM607.5 359.5h3v3h-3zM631.5 367.5h3v3h-3zM661.5 381.5h3v3h-3zM613.5 349.5h3v3h-3zM625.5 382.5h3v3h-3zM641.5 351.5h3v3h-3zM649.5 388.5h3v3h-3zM650.5 371.5h3v3h-3zM634.5 361.5h3v3h-3zM614.5 358.5h3v3h-3zM630.5 350.5h3v3h-3zM662.5 386.5h3v3h-3zM628.5 378.5h3v3h-3zM660.5 354.5h3v3h-3zM684.5 360.5h3v3h-3zM636.5 391.5h3v3h-3zM624.5 365.5h3v3h-3zM656.5 341.5h3v3h-3zM648.5 362.5h3v3h-3zM696.5 377.5h3v3h-3zM627.5 346.5h3v3h-3zM643.5 375.5h3v3h-3zM675.5 351.5h3v3h-3zM651.5 343.5h3v3h-3zM591.5 348.5h3v3h-3zM639.5 363.5h3v3h-3zM647.5 394.5h3v3h-3zM631.5 384.5h3v3h-3zM663.5 360.5h3v3h-3zM621.5 381.5h3v3h-3zM637.5 373.5h3v3h-3zM669.5 349.5h3v3h-3zM657.5 378.5h3v3h-3zM609.5 346.5h3v3h-3zM681.5 383.5h3v3h-3zM626.5 388.5h3v3h-3zM658.5 364.5h3v3h-3zM642.5 357.5h3v3h-3zM650.5 385.5h3v3h-3zM622.5 369.5h3v3h-3zM670.5 374.5h3v3h-3zM646.5 366.5h3v3h-3zM692.5 356.5h3v3h-3zM644.5 387.5h3v3h-3zM620.5 355.5h3v3h-3zM680.5 366.5h3v3h-3zM616.5 342.5h3v3h-3zM664.5 374.5h3v3h-3zM627.5 362.5h3v3h-3zM635.5 352.5h3v3h-3zM623.5 344.5h3v3h-3zM655.5 389.5h3v3h-3zM639.5 381.5h3v3h-3zM671.5 357.5h3v3h-3zM647.5 349.5h3v3h-3zM695.5 361.5h3v3h-3zM629.5 393.5h3v3h-3zM645.5 359.5h3v3h-3zM653.5 390.5h3v3h-3zM689.5 380.5h3v3h-3zM641.5 348.5h3v3h-3zM649.5 355.5h3v3h-3zM665.5 348.5h3v3h-3zM609.5 345.5h3v3h-3zM681.5 390.5h3v3h-3zM617.5 366.5h3v3h-3zM653.5 363.5h3v3h-3zM677.5 370.5h3v3h-3zM629.5 376.5h3v3h-3zM627.5 368.5h3v3h-3zM659.5 344.5h3v3h-3zM611.5 357.5h3v3h-3zM587.5 349.5h3v3h-3zM699.5 385.5h3v3h-3zM687.5 354.5h3v3h-3zM639.5 383.5h3v3h-3zM671.5 359.5h3v3h-3zM615.5 351.5h3v3h-3zM642.5 372.5h3v3h-3zM650.5 379.5h3v3h-3zM666.5 371.5h3v3h-3zM602.5 347.5h3v3h-3zM630.5 358.5h3v3h-3zM660.5 386.5h3v3h-3zM684.5 394.5h3v3h-3zM656.5 367.5h3v3h-3zM690.5 377.5h3v3h-3zM626.5 353.5h3v3h-3zM642.5 345.5h3v3h-3zM674.5 382.5h3v3h-3zM618.5 374.5h3v3h-3zM650.5 350.5h3v3h-3zM686.5 364.5h3v3h-3zM614.5 363.5h3v3h-3zM620.5 345.5h3v3h-3zM636.5 382.5h3v3h-3zM668.5 358.5h3v3h-3zM624.5 374.5h3v3h-3zM656.5 350.5h3v3h-3zM608.5 354.5h3v3h-3zM632.5 360.5h3v3h-3zM659.5 391.5h3v3h-3zM675.5 365.5h3v3h-3zM611.5 341.5h3v3h-3zM699.5 373.5h3v3h-3zM623.5 377.5h3v3h-3zM639.5 369.5h3v3h-3zM671.5 346.5h3v3h-3zM647.5 375.5h3v3h-3zM599.5 343.5h3v3h-3zM693.5 388.5h3v3h-3zM653.5 363.5h3v3h-3zM637.5 356.5h3v3h-3zM681.5 393.5h3v3h-3zM617.5 369.5h3v3h-3zM633.5 342.5h3v3h-3zM665.5 382.5h3v3h-3zM658.5 374.5h3v3h-3zM594.5 350.5h3v3h-3zM681.5 355.5h3v3h-3zM634.5 384.5h3v3h-3zM622.5 352.5h3v3h-3zM638.5 344.5h3v3h-3zM669.5 389.5h3v3h-3zM646.5 357.5h3v3h-3zM675.5 370.5h3v3h-3zM640.5 356.5h3v3h-3zM616.5 349.5h3v3h-3zM648.5 387.5h3v3h-3zM611.5 352.5h3v3h-3zM635.5 366.5h3v3h-3zM666.5 342.5h3v3h-3zM678.5 378.5h3v3h-3zM631.5 346.5h3v3h-3zM629.5 375.5h3v3h-3zM660.5 351.5h3v3h-3zM645.5 367.5h3v3h-3zM625.5 361.5h3v3h-3zM672.5 393.5h3v3h-3zM649.5 359.5h3v3h-3zM690.5 366.5h3v3h-3zM642.5 380.5h3v3h-3zM618.5 372.5h3v3h-3zM650.5 348.5h3v3h-3zM666.5 379.5h3v3h-3zM602.5 355.5h3v3h-3zM590.5 347.5h3v3h-3zM702.5 384.5h3v3h-3zM678.5 352.5h3v3h-3zM630.5 389.5h3v3h-3zM662.5 366.5h3v3h-3zM612.5 362.5h3v3h-3zM636.5 370.5h3v3h-3zM656.5 375.5h3v3h-3zM640.5 391.5h3v3h-3zM608.5 344.5h3v3h-3zM627.5 385.5h3v3h-3zM643.5 353.5h3v3h-3zM619.5 345.5h3v3h-3zM651.5 382.5h3v3h-3zM687.5 390.5h3v3h-3zM647.5 372.5h3v3h-3zM631.5 363.5h3v3h-3zM663.5 340.5h3v3h-3zM621.5 353.5h3v3h-3zM637.5 345.5h3v3h-3zM669.5 390.5h3v3h-3zM657.5 358.5h3v3h-3zM681.5 362.5h3v3h-3zM633.5 394.5h3v3h-3zM625.5 360.5h3v3h-3zM697.5 381.5h3v3h-3zM685.5 373.5h3v3h-3zM621.5 349.5h3v3h-3zM637.5 377.5h3v3h-3zM669.5 354.5h3v3h-3zM645.5 346.5h3v3h-3zM597.5 351.5h3v3h-3zM643.5 364.5h3v3h-3zM635.5 387.5h3v3h-3zM667.5 363.5h3v3h-3zM631.5 368.5h3v3h-3zM663.5 344.5h3v3h-3zM658.5 381.5h3v3h-3zM610.5 350.5h3v3h-3zM682.5 386.5h3v3h-3zM622.5 383.5h3v3h-3zM654.5 359.5h3v3h-3zM646.5 388.5h3v3h-3zM628.5 372.5h3v3h-3zM676.5 377.5h3v3h-3zM652.5 369.5h3v3h-3zM588.5 345.5h3v3h-3zM640.5 387.5h3v3h-3zM616.5 356.5h3v3h-3zM632.5 348.5h3v3h-3zM664.5 387.5h3v3h-3zM682.5 360.5h3v3h-3zM634.5 392.5h3v3h-3zM666.5 368.5h3v3h-3zM622.5 366.5h3v3h-3zM654.5 342.5h3v3h-3zM678.5 350.5h3v3h-3zM630.5 354.5h3v3h-3zM628.5 346.5h3v3h-3zM660.5 383.5h3v3h-3zM644.5 375.5h3v3h-3zM676.5 352.5h3v3h-3zM652.5 344.5h3v3h-3zM700.5 365.5h3v3h-3zM640.5 361.5h3v3h-3zM648.5 393.5h3v3h-3zM691.5 375.5h3v3h-3zM643.5 343.5h3v3h-3zM619.5 380.5h3v3h-3zM651.5 356.5h3v3h-3zM607.5 348.5h3v3h-3zM679.5 385.5h3v3h-3zM615.5 361.5h3v3h-3zM663.5 392.5h3v3h-3zM629.5 390.5h3v3h-3zM661.5 366.5h3v3h-3zM597.5 342.5h3v3h-3zM685.5 374.5h3v3h-3zM637.5 378.5h3v3h-3zM625.5 370.5h3v3h-3zM657.5 347.5h3v3h-3zM673.5 376.5h3v3h-3zM609.5 352.5h3v3h-3zM697.5 389.5h3v3h-3zM642.5 385.5h3v3h-3zM674.5 362.5h3v3h-3zM618.5 354.5h3v3h-3zM638.5 367.5h3v3h-3zM646.5 380.5h3v3h-3zM662.5 372.5h3v3h-3zM598.5 348.5h3v3h-3zM636.5 352.5h3v3h-3zM656.5 389.5h3v3h-3zM659.5 370.5h3v3h-3zM643.5 359.5h3v3h-3zM687.5 380.5h3v3h-3zM623.5 357.5h3v3h-3zM639.5 349.5h3v3h-3zM671.5 385.5h3v3h-3zM647.5 353.5h3v3h-3zM693.5 358.5h3v3h-3zM645.5 390.5h3v3h-3zM621.5 364.5h3v3h-3zM653.5 340.5h3v3h-3zM657.5 363.5h3v3h-3zM617.5 347.5h3v3h-3zM633.5 376.5h3v3h-3zM665.5 353.5h3v3h-3zM658.5 345.5h3v3h-3zM610.5 358.5h3v3h-3zM634.5 362.5h3v3h-3zM654.5 394.5h3v3h-3zM694.5 368.5h3v3h-3zM628.5 381.5h3v3h-3zM644.5 373.5h3v3h-3zM676.5 349.5h3v3h-3zM652.5 377.5h3v3h-3zM604.5 346.5h3v3h-3zM688.5 383.5h3v3h-3zM565.5 288.5h3v3h-3zM565.5 285.5h3v3h-3zM565.5 281.5h3v3h-3zM565.5 278.5h3v3h-3zM565.5 275.5h3v3h-3zM565.5 272.5h3v3h-3zM565.5 269.5h3v3h-3zM565.5 266.5h3v3h-3zM565.5 263.5h3v3h-3zM580.5 284.5h3v3h-3zM580.5 300.5h3v3h-3zM580.5 311.5h3v3h-3zM580.5 321.5h3v3h-3zM580.5 337.5h3v3h-3zM580.5 343.5h3v3h-3zM585.5 362.5h3v3h-3zM613.5 323.5h3v3h-3zM622.5 328.5h3v3h-3zM624.5 327.5h3v3h-3zM626.5 328.5h3v3h-3zM612.5 379.5h3v3h-3zM615.5 380.5h3v3h-3zM680.5 342.5h3v3h-3zM681.5 346.5h3v3h-3zM682.5 352.5h3v3h-3zM682.5 356.5h3v3h-3zM689.5 346.5h3v3h-3zM696.5 346.5h3v3h-3zM694.5 349.5h3v3h-3zM691.5 349.5h3v3h-3zM704.5 362.5h3v3h-3zM706.5 364.5h3v3h-3zM725.5 355.5h3v3h-3zM724.5 366.5h3v3h-3zM729.5 370.5h3v3h-3zM724.5 377.5h3v3h-3zM668.5 333.5h3v3h-3zM655.5 328.5h3v3h-3zM660.5 331.5h3v3h-3zM663.5 329.5h3v3h-3zM670.5 334.5h3v3h-3zM647.5 333.5h3v3h-3zM639.5 336.5h3v3h-3zM634.5 338.5h3v3h-3z" fill="none" stroke="#4f7b7b" stroke-width="0.5"/><polyline points="54.06,134.49 54.88,134.49 55.70,134.49 56.53,134.49 57.35,134.49 58.17,134.49 59.00,134.49 59.82,134.49 60.64,134.49 61.46,134.49 62.29,134.49 63.11,134.49 63.93,134.49 64.76,134.49 65.58,134.49 66.40,134.49 67.22,134.49 68.05,134.49 68.87,134.49 69.69,134.49 70.52,134.49 71.34,134.49 72.16,134.49 72.99,134.49 73.81,134.49 74.63,134.49 75.45,134.49 76.28,134.49 77.10,134.49 77.92,134.49 78.75,134.49 79.57,134.49 80.39,134.49 81.21,134.49 82.04,134.49 82.86,134.49 83.68,134.49 84.51,134.49 85.33,134.49 86.15,134.49 86.98,134.49 87.80,134.49 88.62,134.49 89.44,134.49 90.27,134.49 91.09,134.49 91.91,134.49 92.74,134.49 93.56,134.49 94.38,134.49 95.20,134.49 96.03,134.49 96.85,134.49 97.67,134.49 98.50,134.49 99.32,134.49 100.14,134.49 100.96,134.49 101.79,134.49 102.61,134.49 103.43,134.48 104.26,134.48 105.08,134.48 105.90,134.48 106.72,134.48 107.55,134.48 108.37,134.48 109.19,134.48 110.02,134.48 110.84,134.48 111.66,134.48 112.49,134.48 113.31,134.48 114.13,134.48 114.95,134.48 115.78,134.48 116.60,134.47 117.42,134.47 118.25,134.47 119.07,134.47 119.89,134.47 120.71,134.47 121.54,134.46 122.36,134.46 123.18,134.46 124.01,134.46 124.83,134.45 125.65,134.45 126.48,134.44 127.30,134.44 128.12,134.44 128.94,134.43 129.77,134.42 130.59,134.42 131.41,134.41 132.24,134.40 133.06,134.39 133.88,134.38 134.70,134.37 135.53,134.36 136.35,134.35 137.17,134.33 138.00,134.31 138.82,134.30 139.64,134.28 140.46,134.25 141.29,134.23 142.11,134.20 142.93,134.17 143.76,134.14 144.58,134.10 145.40,134.06 146.23,134.02 147.05,133.97 147.87,133.91 148.69,133.85 149.52,133.79 150.34,133.72 151.16,133.64 151.99,133.55 152.81,133.45 153.63,133.34 154.45,133.22 155.28,133.09 156.10,132.95 156.92,132.79 157.75,132.62 158.57,132.43 159.39,132.22 160.21,131.98 161.04,131.73 161.86,131.45 162.68,131.15 163.51,130.81 164.33,130.44 165.15,130.04 165.97,129.61 166.80,129.13 167.62,128.61 168.44,128.04 169.27,127.42 170.09,126.76 170.91,126.03 171.74,125.25 172.56,124.40 173.38,123.49 174.20,122.51 175.03,121.47 175.85,120.35 176.67,119.15 177.50,117.89 178.32,116.55 179.14,115.13 179.96,113.64 180.79,112.08 181.61,110.46 182.43,108.77 183.26,107.02 184.08,105.22 184.90,103.38 185.72,101.50 186.55,99.59 187.37,97.67 188.19,95.73 189.02,93.80 189.84,91.87 190.66,89.96 191.49,88.08 192.31,86.24 193.13,84.44 193.95,82.69 194.78,81.01 195.60,79.38 196.42,77.82 197.25,76.33 198.07,74.92 198.89,73.58 199.71,72.31 200.54,71.12 201.36,70.00 202.18,68.95 203.01,67.97 203.83,67.06 204.65,66.21 205.48,65.43 206.30,64.71 207.12,64.04 207.94,63.42 208.77,62.85 209.59,62.33 210.41,61.86 211.24,61.42 212.06,61.02 212.88,60.65 213.70,60.32 214.53,60.01 215.35,59.73 216.17,59.48 217.00,59.25 217.82,59.04 218.64,58.85" fill="none" stroke="#c03838" stroke-width="1.0"/><polyline points="312.67,147.16 313.50,133.97 314.32,126.28 315.15,122.53 315.98,119.88 316.80,117.91 317.63,116.20 318.46,114.69 319.28,113.35 320.11,112.15 320.93,111.06 321.76,110.07 322.59,109.13 323.41,108.24 324.24,107.36 325.07,106.52 325.89,105.73 326.72,104.98 327.54,104.26 328.37,103.58 329.20,102.92 330.02,102.30 330.85,101.69 331.68,101.11 332.50,100.55 333.33,100.00 334.16,99.47 334.98,98.96 335.81,98.47 336.63,98.00 337.46,97.54 338.29,97.11 339.11,96.69 339.94,96.29 340.77,95.92 341.59,95.55 342.42,95.20 343.24,94.86 344.07,94.54 344.90,94.22 345.72,93.92 346.55,93.63 347.38,93.34 348.20,93.07 349.03,92.80 349.85,92.54 350.68,92.28 351.51,92.03 352.33,91.78 353.16,91.54 353.99,91.30 354.81,91.06 355.64,90.83 356.46,90.60 357.29,90.38 358.12,90.16 358.94,89.94 359.77,89.72 360.60,89.51 361.42,89.30 362.25,89.09 363.07,88.89 363.90,88.69 364.73,88.49 365.55,88.29 366.38,88.09 367.21,87.89 368.03,87.70 368.86,87.51 369.68,87.31 370.51,87.12 371.34,86.93 372.16,86.73 372.99,86.54 373.82,86.35 374.64,86.16 375.47,85.96 376.29,85.77 377.12,85.58 377.95,85.39 378.77,85.20 379.60,85.01 380.43,84.82 381.25,84.64 382.08,84.45 382.90,84.27 383.73,84.09 384.56,83.91 385.38,83.73 386.21,83.56 387.04,83.39 387.86,83.22 388.69,83.05 389.51,82.88 390.34,82.72 391.17,82.56 391.99,82.41 392.82,82.25 393.65,82.11 394.47,81.96 395.30,81.82 396.12,81.68 396.95,81.55 397.78,81.42 398.60,81.29 399.43,81.17 400.26,81.06 401.08,80.94 401.91,80.83 402.73,80.72 403.56,80.62 404.39,80.51 405.21,80.41 406.04,80.31 406.87,80.21 407.69,80.11 408.52,80.01 409.35,79.92 410.17,79.82 411.00,79.73 411.82,79.64 412.65,79.55 413.48,79.47 414.30,79.38 415.13,79.29 415.96,79.21 416.78,79.13 417.61,79.05 418.43,78.96 419.26,78.88 420.09,78.81 420.91,78.73 421.74,78.65 422.57,78.57 423.39,78.50 424.22,78.42 425.04,78.35 425.87,78.27 426.70,78.20 427.52,78.12 428.35,78.05 429.18,77.98 430.00,77.90 430.83,77.83 431.65,77.76 432.48,77.69 433.31,77.61 434.13,77.54 434.96,77.47 435.79,77.40 436.61,77.32 437.44,77.25 438.26,77.18 439.09,77.11 439.92,77.03 440.74,76.96 441.57,76.89 442.40,76.82 443.22,76.75 444.05,76.68 444.87,76.61 445.70,76.54 446.53,76.47 447.35,76.40 448.18,76.33 449.01,76.26 449.83,76.20 450.66,76.13 451.48,76.06 452.31,75.99 453.14,75.93 453.96,75.86 454.79,75.80 455.62,75.73 456.44,75.67 457.27,75.60 458.09,75.54 458.92,75.47 459.75,75.41 460.57,75.35 461.40,75.29 462.23,75.22 463.05,75.16 463.88,75.10 464.70,75.04 465.53,74.98 466.36,74.92 467.18,74.86 468.01,74.80 468.84,74.74 469.66,74.69 470.49,74.63 471.31,74.57 472.14,74.52 472.97,74.46 473.79,74.41 474.62,74.35 475.45,74.30 476.27,74.24 477.10,74.19 477.93,74.14" fill="none" stroke="#c03838" stroke-width="1.0"/><polyline points="566.32,149.54 567.14,144.71 567.97,140.74 568.79,138.23 569.61,136.26 570.44,134.62 571.26,133.25 572.08,132.08 572.90,131.03 573.73,130.05 574.55,129.14 575.37,128.30 576.20,127.52 577.02,126.79 577.84,126.13 578.67,125.52 579.49,124.96 580.31,124.45 581.13,123.98 581.96,123.52 582.78,123.08 583.60,122.66 584.43,122.25 585.25,121.85 586.07,121.47 586.89,121.10 587.72,120.75 588.54,120.40 589.36,120.07 590.19,119.75 591.01,119.44 591.83,119.14 592.66,118.85 593.48,118.57 594.30,118.30 595.12,118.04 595.95,117.78 596.77,117.54 597.59,117.30 598.42,117.06 599.24,116.83 600.06,116.61 600.88,116.39 601.71,116.18 602.53,115.97 603.35,115.77 604.18,115.56 605.00,115.36 605.82,115.17 606.65,114.97 607.47,114.78 608.29,114.59 609.11,114.40 609.94,114.22 610.76,114.04 611.58,113.86 612.41,113.69 613.23,113.52 614.05,113.35 614.87,113.18 615.70,113.01 616.52,112.85 617.34,112.69 618.17,112.53 618.99,112.37 619.81,112.22 620.64,112.07 621.46,111.92 622.28,111.77 623.10,111.62 623.93,111.48 624.75,111.33 625.57,111.19 626.40,111.05 627.22,110.91 628.04,110.78 628.86,110.64 629.69,110.51 630.51,110.38 631.33,110.25 632.16,110.12 632.98,109.99 633.80,109.86 634.63,109.74 635.45,109.61 636.27,109.49 637.09,109.37 637.92,109.25 638.74,109.13 639.56,109.01 640.39,108.89 641.21,108.77 642.03,108.65 642.85,108.53 643.68,108.42 644.50,108.30 645.32,108.19 646.15,108.07 646.97,107.96 647.79,107.84 648.61,107.73 649.44,107.62 650.26,107.51 651.08,107.39 651.91,107.29 652.73,107.18 653.55,107.07 654.38,106.96 655.20,106.86 656.02,106.75 656.84,106.65 657.67,106.55 658.49,106.44 659.31,106.34 660.14,106.24 660.96,106.15 661.78,106.05 662.60,105.95 663.43,105.85 664.25,105.76 665.07,105.66 665.90,105.57 666.72,105.48 667.54,105.38 668.37,105.29 669.19,105.20 670.01,105.11 670.83,105.02 671.66,104.93 672.48,104.84 673.30,104.75 674.13,104.67 674.95,104.58 675.77,104.50 676.59,104.41 677.42,104.32 678.24,104.24 679.06,104.16 679.89,104.07 680.71,103.99 681.53,103.91 682.36,103.83 683.18,103.74 684.00,103.66 684.82,103.58 685.65,103.50 686.47,103.42 687.29,103.34 688.12,103.26 688.94,103.18 689.76,103.10 690.58,103.02 691.41,102.94 692.23,102.87 693.05,102.79 693.88,102.71 694.70,102.63 695.52,102.56 696.35,102.48 697.17,102.41 697.99,102.33 698.81,102.25 699.64,102.18 700.46,102.11 701.28,102.03 702.11,101.96 702.93,101.88 703.75,101.81 704.57,101.74 705.40,101.67 706.22,101.60 707.04,101.52 707.87,101.45 708.69,101.38 709.51,101.31 710.33,101.24 711.16,101.17 711.98,101.11 712.80,101.04 713.63,100.97 714.45,100.90 715.27,100.84 716.10,100.77 716.92,100.70 717.74,100.64 718.56,100.57 719.39,100.51 720.21,100.45 721.03,100.38 721.86,100.32 722.68,100.26 723.50,100.19 724.32,100.13 725.15,100.07 725.97,100.01 726.79,99.95 727.62,99.89 728.44,99.83 729.26,99.78 730.09,99.72 730.91,99.66" fill="none" stroke="#c03838" stroke-width="1.0"/><polyline points="54.49,365.46 55.32,365.46 56.14,365.46 56.97,365.46 57.79,365.45 58.61,365.45 59.44,365.44 60.26,365.44 61.09,365.43 61.91,365.42 62.74,365.41 63.56,365.39 64.39,365.38 65.21,365.36 66.04,365.34 66.86,365.32 67.69,365.29 68.51,365.27 69.33,365.24 70.16,365.20 70.98,365.17 71.81,365.13 72.63,365.09 73.46,365.04 74.28,364.99 75.11,364.94 75.93,364.89 76.76,364.83 77.58,364.77 78.40,364.71 79.23,364.64 80.05,364.57 80.88,364.49 81.70,364.41 82.53,364.33 83.35,364.24 84.18,364.15 85.00,364.06 85.83,363.96 86.65,363.86 87.48,363.75 88.30,363.64 89.12,363.52 89.95,363.40 90.77,363.28 91.60,363.15 92.42,363.02 93.25,362.88 94.07,362.74 94.90,362.59 95.72,362.44 96.55,362.28 97.37,362.12 98.19,361.95 99.02,361.78 99.84,361.61 100.67,361.43 101.49,361.24 102.32,361.05 103.14,360.85 103.97,360.65 104.79,360.44 105.62,360.23 106.44,360.01 107.27,359.79 108.09,359.56 108.91,359.33 109.74,359.09 110.56,358.84 111.39,358.59 112.21,358.33 113.04,358.07 113.86,357.80 114.69,357.53 115.51,357.25 116.34,356.96 117.16,356.67 117.98,356.37 118.81,356.07 119.63,355.76 120.46,355.44 121.28,355.12 122.11,354.79 122.93,354.46 123.76,354.12 124.58,353.77 125.41,353.42 126.23,353.06 127.06,352.69 127.88,352.32 128.70,351.94 129.53,351.55 130.35,351.16 131.18,350.76 132.00,350.35 132.83,349.94 133.65,349.52 134.48,349.09 135.30,348.66 136.13,348.22 136.95,347.77 137.77,347.31 138.60,346.85 139.42,346.38 140.25,345.91 141.07,345.42 141.90,344.93 142.72,344.44 143.55,343.93 144.37,343.42 145.20,342.90 146.02,342.37 146.85,341.84 147.67,341.30 148.49,340.75 149.32,340.19 150.14,339.63 150.97,339.06 151.79,338.48 152.62,337.89 153.44,337.30 154.27,336.69 155.09,336.08 155.92,335.47 156.74,334.84 157.56,334.21 158.39,333.57 159.21,332.92 160.04,332.26 160.86,331.59 161.69,330.92 162.51,330.24 163.34,329.55 164.16,328.85 164.99,328.15 165.81,327.43 166.64,326.71 167.46,325.98 168.28,325.24 169.11,324.49 169.93,323.74 170.76,322.97 171.58,322.20 172.41,321.42 173.23,320.63 174.06,319.83 174.88,319.02 175.71,318.21 176.53,317.38 177.35,316.55 178.18,315.71 179.00,314.86 179.83,314.00 180.65,313.13 181.48,312.26 182.30,311.37 183.13,310.48 183.95,309.57 184.78,308.66 185.60,307.74 186.43,306.81 187.25,305.87 188.07,304.92 188.90,303.97 189.72,303.00 190.55,302.02 191.37,301.04 192.20,300.04 193.02,299.04 193.85,298.03 194.67,297.01 195.50,295.97 196.32,294.93 197.14,293.88 197.97,292.82 198.79,291.75 199.62,290.67 200.44,289.59 201.27,288.49 202.09,287.38 202.92,286.26 203.74,285.14 204.57,284.00 205.39,282.85 206.22,281.70 207.04,280.53 207.86,279.36 208.69,278.17 209.51,276.98 210.34,275.77 211.16,274.56 211.99,273.33 212.81,272.10 213.64,270.85 214.46,269.60 215.29,268.33 216.11,267.06 216.93,265.77 217.76,264.48 218.58,263.17 219.41,261.85" fill="none" stroke="#c03838" stroke-width="1.0"/><polyline points="312.09,358.93 312.92,358.93 313.75,358.93 314.58,358.93 315.41,358.93 316.24,358.93 317.07,358.93 317.90,358.93 318.73,358.93 319.56,358.93 320.39,358.93 321.22,358.93 322.05,358.93 322.88,358.93 323.71,358.93 324.54,358.93 325.37,358.93 326.19,358.93 327.02,358.93 327.85,358.93 328.68,358.93 329.51,358.93 330.34,358.93 331.17,358.93 332.00,358.93 332.83,358.93 333.66,358.93 334.49,358.93 335.32,358.93 336.15,358.93 336.98,358.93 337.81,358.93 338.64,358.93 339.47,358.93 340.30,358.93 341.13,358.93 341.96,358.93 342.79,358.93 343.62,358.93 344.45,358.93 345.28,358.93 346.10,358.93 346.93,358.93 347.76,358.93 348.59,358.93 349.42,358.93 350.25,358.93 351.08,358.93 351.91,358.93 352.74,358.93 353.57,358.93 354.40,358.93 355.23,358.93 356.06,358.93 356.89,358.93 357.72,358.93 358.55,358.93 359.38,358.93 360.21,358.93 361.04,358.93 361.87,358.93 362.70,358.93 363.53,358.93 364.36,358.93 365.19,358.93 366.01,358.93 366.84,358.93 367.67,358.93 368.50,358.93 369.33,358.93 370.16,358.93 370.99,358.93 371.82,358.93 372.65,358.93 373.48,358.93 374.31,358.93 375.14,358.93 375.97,358.93 376.80,358.93 377.63,358.93 378.46,358.93 379.29,358.93 380.12,358.93 380.95,358.93 381.78,358.93 382.61,358.93 383.44,358.93 384.27,358.93 385.10,358.93 385.92,358.93 386.75,358.93 387.58,358.93 388.41,358.93 389.24,358.93 390.07,358.93 390.90,358.93 391.73,358.93 392.56,358.93 393.39,358.93 394.22,358.93 395.05,358.92 395.88,358.92 396.71,358.92 397.54,358.92 398.37,358.92 399.20,358.92 400.03,358.91 400.86,358.91 401.69,358.91 402.52,358.90 403.35,358.90 404.18,358.90 405.00,358.89 405.83,358.89 406.66,358.88 407.49,358.87 408.32,358.87 409.15,358.86 409.98,358.85 410.81,358.83 411.64,358.82 412.47,358.81 413.30,358.79 414.13,358.77 414.96,358.75 415.79,358.72 416.62,358.70 417.45,358.66 418.28,358.63 419.11,358.59 419.94,358.54 420.77,358.49 421.60,358.43 422.43,358.37 423.26,358.29 424.09,358.21 424.92,358.11 425.74,358.00 426.57,357.88 427.40,357.74 428.23,357.58 429.06,357.41 429.89,357.21 430.72,356.98 431.55,356.73 432.38,356.44 433.21,356.12 434.04,355.76 434.87,355.35 435.70,354.90 436.53,354.39 437.36,353.81 438.19,353.17 439.02,352.46 439.85,351.66 440.68,350.77 441.51,349.79 442.34,348.70 443.17,347.50 444.00,346.18 444.83,344.74 445.65,343.16 446.48,341.44 447.31,339.58 448.14,337.58 448.97,335.43 449.80,333.15 450.63,330.72 451.46,328.17 452.29,325.51 453.12,322.73 453.95,319.88 454.78,316.95 455.61,313.99 456.44,310.99 457.27,308.00 458.10,305.03 458.93,302.11 459.76,299.25 460.59,296.48 461.42,293.81 462.25,291.26 463.08,288.84 463.91,286.55 464.74,284.41 465.56,282.40 466.39,280.54 467.22,278.83 468.05,277.25 468.88,275.80 469.71,274.48 470.54,273.28 471.37,272.20 472.20,271.21 473.03,270.33 473.86,269.53 474.69,268.81 475.52,268.17 476.35,267.60 477.18,267.09 478.01,266.63" fill="none" stroke="#c03838" stroke-width="1.0"/><polyline points="566.80,278.86 567.62,281.43 568.44,283.93 569.26,286.36 570.08,288.73 570.90,291.03 571.72,293.28 572.54,295.47 573.36,297.59 574.18,299.67 575.00,301.68 575.82,303.65 576.64,305.56 577.46,307.42 578.28,309.24 579.10,311.00 579.92,312.72 580.74,314.39 581.56,316.02 582.38,317.61 583.20,319.15 584.02,320.66 584.84,322.12 585.66,323.54 586.48,324.93 587.30,326.28 588.12,327.60 588.94,328.88 589.76,330.13 590.58,331.34 591.40,332.52 592.22,333.67 593.04,334.79 593.86,335.88 594.68,336.95 595.50,337.98 596.32,338.99 597.14,339.97 597.96,340.92 598.78,341.85 599.60,342.75 600.42,343.64 601.24,344.49 602.06,345.33 602.88,346.14 603.70,346.93 604.52,347.70 605.34,348.45 606.16,349.18 606.98,349.89 607.80,350.59 608.62,351.26 609.44,351.92 610.26,352.56 611.08,353.18 611.90,353.78 612.72,354.37 613.54,354.95 614.36,355.51 615.18,356.05 616.00,356.58 616.82,357.10 617.64,357.60 618.46,358.09 619.28,358.56 620.10,359.03 620.92,359.48 621.74,359.92 622.56,360.35 623.38,360.76 624.20,361.17 625.02,361.56 625.84,361.95 626.66,362.32 627.48,362.69 628.30,363.04 629.12,363.39 629.94,363.72 630.76,364.05 631.58,364.37 632.40,364.68 633.22,364.98 634.04,365.28 634.86,365.56 635.68,365.84 636.50,366.11 637.32,366.38 638.14,366.64 638.96,366.89 639.78,367.13 640.60,367.37 641.42,367.60 642.24,367.83 643.06,368.04 643.88,368.26 644.70,368.47 645.52,368.67 646.34,368.87 647.16,369.06 647.98,369.24 648.80,369.43 649.62,369.60 650.44,369.78 651.26,369.94 652.08,370.11 652.90,370.27 653.72,370.42 654.54,370.57 655.36,370.72 656.18,370.86 657.00,371.00 657.82,371.14 658.64,371.27 659.46,371.40 660.28,371.52 661.10,371.64 661.92,371.76 662.74,371.88 663.56,371.99 664.38,372.10 665.20,372.21 666.02,372.31 666.84,372.41 667.66,372.51 668.48,372.60 669.30,372.70 670.12,372.79 670.94,372.88 671.76,372.96 672.58,373.05 673.40,373.13 674.22,373.21 675.04,373.28 675.86,373.36 676.68,373.43 677.50,373.50 678.32,373.57 679.14,373.64 679.96,373.71 680.78,373.77 681.60,373.83 682.42,373.89 683.24,373.95 684.06,374.01 684.88,374.07 685.70,374.12 686.52,374.17 687.34,374.23 688.16,374.28 688.98,374.33 689.80,374.37 690.62,374.42 691.44,374.47 692.26,374.51 693.08,374.55 693.90,374.59 694.72,374.64 695.54,374.67 696.36,374.71 697.18,374.75 698.00,374.79 698.82,374.82 699.64,374.86 700.46,374.89 701.28,374.92 702.10,374.96 702.92,374.99 703.74,375.02 704.56,375.05 705.38,375.08 706.20,375.10 707.02,375.13 707.84,375.16 708.66,375.18 709.48,375.21 710.30,375.23 711.12,375.26 711.94,375.28 712.76,375.30 713.58,375.32 714.40,375.35 715.22,375.37 716.04,375.39 716.86,375.41 717.68,375.43 718.50,375.45 719.32,375.46 720.14,375.48 720.96,375.50 721.78,375.52 722.60,375.53 723.42,375.55 724.24,375.56 725.06,375.58 725.88,375.59 726.70,375.61 727.52,375.62 728.34,375.64 729.16,375.65 729.98,375.66 730.80,375.67" fill="none" stroke="#c03838" stroke-width="1.0"/><rect x="37.60" y="26.50" width="197.50" height="159.00" fill="none" stroke="#505050" stroke-width="1.1"/><path d="M54.06 185.50v-3.4M37.60 172.25h3.4M103.43 185.50v-3.4M37.60 132.50h3.4M152.81 185.50v-3.4M37.60 92.75h3.4M202.18 185.50v-3.4M37.60 53.00h3.4M78.75 185.50v-2M37.60 152.38h2M128.12 185.50v-2M37.60 112.62h2M177.50 185.50v-2M37.60 72.88h2M226.87 185.50v-2M37.60 33.12h2" stroke="#505050" stroke-width="1" fill="none"/><text x="54.06" y="197.10" text-anchor="middle" class="t">0.0</text><text x="34.60" y="175.15" text-anchor="end" class="t">0.0</text><text x="103.43" y="197.10" text-anchor="middle" class="t">0.3</text><text x="34.60" y="135.40" text-anchor="end" class="t">0.3</text><text x="152.81" y="197.10" text-anchor="middle" class="t">0.6</text><text x="34.60" y="95.65" text-anchor="end" class="t">0.6</text><text x="202.18" y="197.10" text-anchor="middle" class="t">0.9</text><text x="34.60" y="55.90" text-anchor="end" class="t">0.9</text><rect x="295.60" y="25.90" width="198.90" height="159.90" fill="none" stroke="#505050" stroke-width="1.1"/><path d="M312.18 185.80v-3.4M295.60 172.48h3.4M361.90 185.80v-3.4M295.60 132.50h3.4M411.62 185.80v-3.4M295.60 92.53h3.4M461.35 185.80v-3.4M295.60 52.55h3.4M337.04 185.80v-2M295.60 152.49h2M386.76 185.80v-2M295.60 112.51h2M436.49 185.80v-2M295.60 72.54h2M486.21 185.80v-2M295.60 32.56h2" stroke="#505050" stroke-width="1" fill="none"/><text x="312.18" y="197.40" text-anchor="middle" class="t">0.0</text><text x="292.60" y="175.38" text-anchor="end" class="t">0.0</text><text x="361.90" y="197.40" text-anchor="middle" class="t">0.3</text><text x="292.60" y="135.40" text-anchor="end" class="t">0.3</text><text x="411.62" y="197.40" text-anchor="middle" class="t">0.6</text><text x="292.60" y="95.43" text-anchor="end" class="t">0.6</text><text x="461.35" y="197.40" text-anchor="middle" class="t">0.9</text><text x="292.60" y="55.45" text-anchor="end" class="t">0.9</text><rect x="549.50" y="25.50" width="197.90" height="159.20" fill="none" stroke="#505050" stroke-width="1.1"/><path d="M565.99 184.70v-3.4M549.50 171.43h3.4M615.47 184.70v-3.4M549.50 131.63h3.4M664.94 184.70v-3.4M549.50 91.83h3.4M714.42 184.70v-3.4M549.50 52.03h3.4M590.73 184.70v-2M549.50 151.53h2M640.20 184.70v-2M549.50 111.73h2M689.68 184.70v-2M549.50 71.93h2M739.15 184.70v-2M549.50 32.13h2" stroke="#505050" stroke-width="1" fill="none"/><text x="565.99" y="196.30" text-anchor="middle" class="t">0.0</text><text x="546.50" y="174.33" text-anchor="end" class="t">0.0</text><text x="615.47" y="196.30" text-anchor="middle" class="t">0.3</text><text x="546.50" y="134.53" text-anchor="end" class="t">0.3</text><text x="664.94" y="196.30" text-anchor="middle" class="t">0.6</text><text x="546.50" y="94.73" text-anchor="end" class="t">0.6</text><text x="714.42" y="196.30" text-anchor="middle" class="t">0.9</text><text x="546.50" y="54.93" text-anchor="end" class="t">0.9</text><rect x="38.00" y="252.40" width="197.90" height="159.80" fill="none" stroke="#505050" stroke-width="1.1"/><path d="M54.49 412.20v-3.4M38.00 398.88h3.4M103.97 412.20v-3.4M38.00 358.93h3.4M153.44 412.20v-3.4M38.00 318.98h3.4M202.92 412.20v-3.4M38.00 279.03h3.4M79.23 412.20v-2M38.00 378.91h2M128.70 412.20v-2M38.00 338.96h2M178.18 412.20v-2M38.00 299.01h2M227.65 412.20v-2M38.00 259.06h2" stroke="#505050" stroke-width="1" fill="none"/><text x="54.49" y="423.80" text-anchor="middle" class="t">0.0</text><text x="35.00" y="401.78" text-anchor="end" class="t">0.0</text><text x="103.97" y="423.80" text-anchor="middle" class="t">0.3</text><text x="35.00" y="361.83" text-anchor="end" class="t">0.3</text><text x="153.44" y="423.80" text-anchor="middle" class="t">0.6</text><text x="35.00" y="321.88" text-anchor="end" class="t">0.6</text><text x="202.92" y="423.80" text-anchor="middle" class="t">0.9</text><text x="35.00" y="281.93" text-anchor="end" class="t">0.9</text><rect x="295.50" y="252.40" width="199.10" height="159.80" fill="none" stroke="#505050" stroke-width="1.1"/><path d="M312.09 412.20v-3.4M295.50 398.88h3.4M361.87 412.20v-3.4M295.50 358.93h3.4M411.64 412.20v-3.4M295.50 318.98h3.4M461.42 412.20v-3.4M295.50 279.03h3.4M336.98 412.20v-2M295.50 378.91h2M386.75 412.20v-2M295.50 338.96h2M436.53 412.20v-2M295.50 299.01h2M486.30 412.20v-2M295.50 259.06h2" stroke="#505050" stroke-width="1" fill="none"/><text x="312.09" y="423.80" text-anchor="middle" class="t">0.0</text><text x="292.50" y="401.78" text-anchor="end" class="t">0.0</text><text x="361.87" y="423.80" text-anchor="middle" class="t">0.3</text><text x="292.50" y="361.83" text-anchor="end" class="t">0.3</text><text x="411.64" y="423.80" text-anchor="middle" class="t">0.6</text><text x="292.50" y="321.88" text-anchor="end" class="t">0.6</text><text x="461.42" y="423.80" text-anchor="middle" class="t">0.9</text><text x="292.50" y="281.93" text-anchor="end" class="t">0.9</text><rect x="550.40" y="251.90" width="196.80" height="158.60" fill="none" stroke="#505050" stroke-width="1.1"/><path d="M566.80 410.50v-3.4M550.40 397.28h3.4M616.00 410.50v-3.4M550.40 357.63h3.4M665.20 410.50v-3.4M550.40 317.98h3.4M714.40 410.50v-3.4M550.40 278.33h3.4M591.40 410.50v-2M550.40 377.46h2M640.60 410.50v-2M550.40 337.81h2M689.80 410.50v-2M550.40 298.16h2M739.00 410.50v-2M550.40 258.51h2" stroke="#505050" stroke-width="1" fill="none"/><text x="566.80" y="422.10" text-anchor="middle" class="t">0.0</text><text x="547.40" y="400.18" text-anchor="end" class="t">0.0</text><text x="616.00" y="422.10" text-anchor="middle" class="t">0.3</text><text x="547.40" y="360.53" text-anchor="end" class="t">0.3</text><text x="665.20" y="422.10" text-anchor="middle" class="t">0.6</text><text x="547.40" y="320.88" text-anchor="end" class="t">0.6</text><text x="714.40" y="422.10" text-anchor="middle" class="t">0.9</text><text x="547.40" y="281.23" text-anchor="end" class="t">0.9</text><text x="-0.1" y="9.4" class="pl">A</text><text x="265.6" y="9.4" class="pl">B</text><text x="517.4" y="9.4" class="pl">C</text><text x="0.4" y="240.9" class="pl">D</text><text x="265.4" y="240.9" class="pl">E</text><text x="517.6" y="240.9" class="pl">F</text><text x="136.35" y="210.40" text-anchor="middle" class="lab">Feature 1</text><text x="395.05" y="210.70" text-anchor="middle" class="lab">Feature 1</text><text x="648.45" y="209.60" text-anchor="middle" class="lab">Feature 1</text><text x="136.95" y="437.10" text-anchor="middle" class="lab">SASA</text><text transform="translate(14.00,106.00) rotate(-90)" text-anchor="middle" class="lab">SASA</text><text transform="translate(14.40,332.30) rotate(-90)" text-anchor="middle" class="lab">Feature 2</text><text transform="translate(271.90,332.30) rotate(-90)" text-anchor="middle" class="lab">Feature 2</text><text transform="translate(526.80,331.20) rotate(-90)" text-anchor="middle" class="lab">Feature 2</text><text x="389.4" y="438.2" class="lab"><tspan font-style="italic" font-size="10.6px">R</tspan><tspan font-size="7px" dy="2.2">g</tspan></text><text x="643.7" y="436.1" class="lab"><tspan font-style="italic" font-size="10.8px">L</tspan><tspan font-size="7px" dy="2.2">F</tspan></text><text transform="translate(270.0,111.6) rotate(-90)" class="lab"><tspan font-style="italic" font-size="11.2px">R</tspan><tspan font-size="7px" dy="2.2">g</tspan></text><text transform="translate(523.8,109.8) rotate(-90)" class="lab"><tspan font-style="italic" font-size="11.2px">L</tspan><tspan font-size="7px" dy="2.2">F</tspan></text><text x="51.5" y="44.6" class="r2"><tspan font-style="italic">R</tspan><tspan font-size="7.5px" dy="-4.4">2</tspan><tspan dy="4.4"> = 0.3236</tspan></text><text x="311.2" y="44.0" class="r2"><tspan font-style="italic">R</tspan><tspan font-size="7.5px" dy="-4.4">2</tspan><tspan dy="4.4"> = 0.5231</tspan></text><text x="563.3" y="45.4" class="r2"><tspan font-style="italic">R</tspan><tspan font-size="7.5px" dy="-4.4">2</tspan><tspan dy="4.4"> = 0.3514</tspan></text><text x="52.7" y="272.2" class="r2"><tspan font-style="italic">R</tspan><tspan font-size="7.5px" dy="-4.4">2</tspan><tspan dy="4.4"> = 0.4128</tspan></text><text x="310.2" y="270.6" class="r2"><tspan font-style="italic">R</tspan><tspan font-size="7.5px" dy="-4.4">2</tspan><tspan dy="4.4"> = 0.2697</tspan></text><text x="581.2" y="268.8" class="r2"><tspan font-style="italic">R</tspan><tspan font-size="7.5px" dy="-4.4">2</tspan><tspan dy="4.4"> = 0.6684</tspan></text></svg></body></html>
